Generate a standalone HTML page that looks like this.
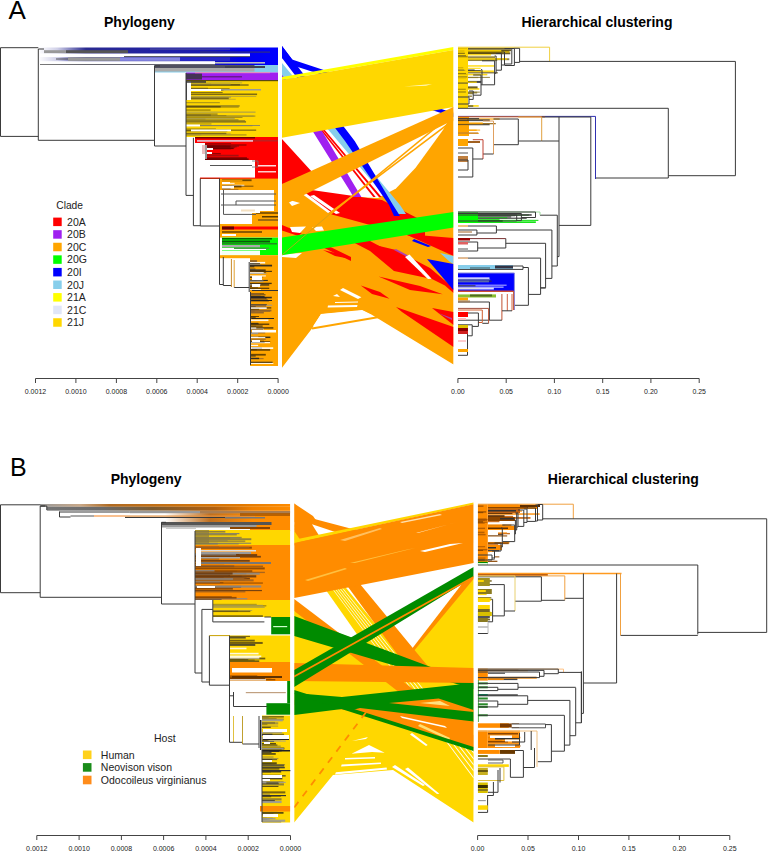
<!DOCTYPE html>
<html><head><meta charset="utf-8">
<style>
html,body{margin:0;padding:0;background:#fff;width:768px;height:851px;overflow:hidden}
svg{display:block}
text{font-family:"Liberation Sans",sans-serif}
</style></head><body>
<svg width="768" height="851" viewBox="0 0 768 851" shape-rendering="auto">
<text x="8.5" y="18.8" font-size="26" text-anchor="start" font-weight="normal" fill="#000">A</text>
<text x="104" y="26.8" font-size="14" text-anchor="start" font-weight="bold" fill="#000">Phylogeny</text>
<text x="521.5" y="27.2" font-size="14" text-anchor="start" font-weight="bold" fill="#000">Hierarchical clustering</text>
<text x="10" y="475.7" font-size="25" text-anchor="start" font-weight="normal" fill="#000">B</text>
<text x="110.7" y="483.8" font-size="14" text-anchor="start" font-weight="bold" fill="#000">Phylogeny</text>
<text x="547.8" y="484.4" font-size="14" text-anchor="start" font-weight="bold" fill="#000">Hierarchical clustering</text>
<line x1="35.5" y1="378.5" x2="278.1" y2="378.5" stroke="#444" stroke-width="1" />
<line x1="35.5" y1="378.5" x2="35.5" y2="383.0" stroke="#444" stroke-width="1" />
<text x="35.5" y="394" font-size="7" text-anchor="middle" font-weight="normal" fill="#222">0.0012</text>
<line x1="75.9" y1="378.5" x2="75.9" y2="383.0" stroke="#444" stroke-width="1" />
<text x="75.9" y="394" font-size="7" text-anchor="middle" font-weight="normal" fill="#222">0.0010</text>
<line x1="116.4" y1="378.5" x2="116.4" y2="383.0" stroke="#444" stroke-width="1" />
<text x="116.4" y="394" font-size="7" text-anchor="middle" font-weight="normal" fill="#222">0.0008</text>
<line x1="156.8" y1="378.5" x2="156.8" y2="383.0" stroke="#444" stroke-width="1" />
<text x="156.8" y="394" font-size="7" text-anchor="middle" font-weight="normal" fill="#222">0.0006</text>
<line x1="197.2" y1="378.5" x2="197.2" y2="383.0" stroke="#444" stroke-width="1" />
<text x="197.2" y="394" font-size="7" text-anchor="middle" font-weight="normal" fill="#222">0.0004</text>
<line x1="237.7" y1="378.5" x2="237.7" y2="383.0" stroke="#444" stroke-width="1" />
<text x="237.7" y="394" font-size="7" text-anchor="middle" font-weight="normal" fill="#222">0.0002</text>
<line x1="278.1" y1="378.5" x2="278.1" y2="383.0" stroke="#444" stroke-width="1" />
<text x="278.1" y="394" font-size="7" text-anchor="middle" font-weight="normal" fill="#222">0.0000</text>
<line x1="457.9" y1="378.5" x2="699.2" y2="378.5" stroke="#444" stroke-width="1" />
<line x1="457.9" y1="378.5" x2="457.9" y2="383.0" stroke="#444" stroke-width="1" />
<text x="457.9" y="394" font-size="7" text-anchor="middle" font-weight="normal" fill="#222">0.00</text>
<line x1="506.2" y1="378.5" x2="506.2" y2="383.0" stroke="#444" stroke-width="1" />
<text x="506.2" y="394" font-size="7" text-anchor="middle" font-weight="normal" fill="#222">0.05</text>
<line x1="554.4" y1="378.5" x2="554.4" y2="383.0" stroke="#444" stroke-width="1" />
<text x="554.4" y="394" font-size="7" text-anchor="middle" font-weight="normal" fill="#222">0.10</text>
<line x1="602.7" y1="378.5" x2="602.7" y2="383.0" stroke="#444" stroke-width="1" />
<text x="602.7" y="394" font-size="7" text-anchor="middle" font-weight="normal" fill="#222">0.15</text>
<line x1="650.9" y1="378.5" x2="650.9" y2="383.0" stroke="#444" stroke-width="1" />
<text x="650.9" y="394" font-size="7" text-anchor="middle" font-weight="normal" fill="#222">0.20</text>
<line x1="699.2" y1="378.5" x2="699.2" y2="383.0" stroke="#444" stroke-width="1" />
<text x="699.2" y="394" font-size="7" text-anchor="middle" font-weight="normal" fill="#222">0.25</text>
<line x1="36.8" y1="835.5" x2="290.5" y2="835.5" stroke="#444" stroke-width="1" />
<line x1="36.8" y1="835.5" x2="36.8" y2="840.0" stroke="#444" stroke-width="1" />
<text x="36.8" y="851" font-size="7" text-anchor="middle" font-weight="normal" fill="#222">0.0012</text>
<line x1="79.1" y1="835.5" x2="79.1" y2="840.0" stroke="#444" stroke-width="1" />
<text x="79.1" y="851" font-size="7" text-anchor="middle" font-weight="normal" fill="#222">0.0010</text>
<line x1="121.4" y1="835.5" x2="121.4" y2="840.0" stroke="#444" stroke-width="1" />
<text x="121.4" y="851" font-size="7" text-anchor="middle" font-weight="normal" fill="#222">0.0008</text>
<line x1="163.6" y1="835.5" x2="163.6" y2="840.0" stroke="#444" stroke-width="1" />
<text x="163.6" y="851" font-size="7" text-anchor="middle" font-weight="normal" fill="#222">0.0006</text>
<line x1="205.9" y1="835.5" x2="205.9" y2="840.0" stroke="#444" stroke-width="1" />
<text x="205.9" y="851" font-size="7" text-anchor="middle" font-weight="normal" fill="#222">0.0004</text>
<line x1="248.2" y1="835.5" x2="248.2" y2="840.0" stroke="#444" stroke-width="1" />
<text x="248.2" y="851" font-size="7" text-anchor="middle" font-weight="normal" fill="#222">0.0002</text>
<line x1="290.5" y1="835.5" x2="290.5" y2="840.0" stroke="#444" stroke-width="1" />
<text x="290.5" y="851" font-size="7" text-anchor="middle" font-weight="normal" fill="#222">0.0000</text>
<line x1="477.6" y1="835.5" x2="729.8" y2="835.5" stroke="#444" stroke-width="1" />
<line x1="477.6" y1="835.5" x2="477.6" y2="840.0" stroke="#444" stroke-width="1" />
<text x="477.6" y="851" font-size="7" text-anchor="middle" font-weight="normal" fill="#222">0.00</text>
<line x1="528.0" y1="835.5" x2="528.0" y2="840.0" stroke="#444" stroke-width="1" />
<text x="528.0" y="851" font-size="7" text-anchor="middle" font-weight="normal" fill="#222">0.05</text>
<line x1="578.5" y1="835.5" x2="578.5" y2="840.0" stroke="#444" stroke-width="1" />
<text x="578.5" y="851" font-size="7" text-anchor="middle" font-weight="normal" fill="#222">0.10</text>
<line x1="628.9" y1="835.5" x2="628.9" y2="840.0" stroke="#444" stroke-width="1" />
<text x="628.9" y="851" font-size="7" text-anchor="middle" font-weight="normal" fill="#222">0.15</text>
<line x1="679.4" y1="835.5" x2="679.4" y2="840.0" stroke="#444" stroke-width="1" />
<text x="679.4" y="851" font-size="7" text-anchor="middle" font-weight="normal" fill="#222">0.20</text>
<line x1="729.8" y1="835.5" x2="729.8" y2="840.0" stroke="#444" stroke-width="1" />
<text x="729.8" y="851" font-size="7" text-anchor="middle" font-weight="normal" fill="#222">0.25</text>
<text x="56.3" y="208.9" font-size="10.2" text-anchor="start" font-weight="normal" fill="#222">Clade</text>
<rect x="53.20" y="217.60" width="8.50" height="8.50" fill="#ff0000" />
<text x="67.1" y="225.60000000000002" font-size="10.5" text-anchor="start" font-weight="normal" fill="#222">20A</text>
<rect x="53.20" y="230.18" width="8.50" height="8.50" fill="#a020f0" />
<text x="67.1" y="238.18000000000004" font-size="10.5" text-anchor="start" font-weight="normal" fill="#222">20B</text>
<rect x="53.20" y="242.76" width="8.50" height="8.50" fill="#ffa500" />
<text x="67.1" y="250.76000000000002" font-size="10.5" text-anchor="start" font-weight="normal" fill="#222">20C</text>
<rect x="53.20" y="255.34" width="8.50" height="8.50" fill="#00ff00" />
<text x="67.1" y="263.34000000000003" font-size="10.5" text-anchor="start" font-weight="normal" fill="#222">20G</text>
<rect x="53.20" y="267.92" width="8.50" height="8.50" fill="#0000ff" />
<text x="67.1" y="275.92" font-size="10.5" text-anchor="start" font-weight="normal" fill="#222">20I</text>
<rect x="53.20" y="280.50" width="8.50" height="8.50" fill="#87ceeb" />
<text x="67.1" y="288.5" font-size="10.5" text-anchor="start" font-weight="normal" fill="#222">20J</text>
<rect x="53.20" y="293.08" width="8.50" height="8.50" fill="#ffff00" />
<text x="67.1" y="301.08000000000004" font-size="10.5" text-anchor="start" font-weight="normal" fill="#222">21A</text>
<rect x="53.20" y="305.66" width="8.50" height="8.50" fill="#e0e6f8" />
<text x="67.1" y="313.66" font-size="10.5" text-anchor="start" font-weight="normal" fill="#222">21C</text>
<rect x="53.20" y="318.24" width="8.50" height="8.50" fill="#ffd700" />
<text x="67.1" y="326.24" font-size="10.5" text-anchor="start" font-weight="normal" fill="#222">21J</text>
<text x="154" y="741.9" font-size="10.5" text-anchor="start" font-weight="normal" fill="#222">Host</text>
<rect x="82.90" y="750.50" width="8.60" height="8.60" fill="#ffd11a" />
<text x="100.8" y="758.5999999999999" font-size="10.5" text-anchor="start" font-weight="normal" fill="#222">Human</text>
<rect x="82.90" y="763.10" width="8.60" height="8.60" fill="#1a8c1a" />
<text x="100.8" y="771.1999999999999" font-size="10.5" text-anchor="start" font-weight="normal" fill="#222">Neovison vison</text>
<rect x="82.90" y="775.70" width="8.60" height="8.60" fill="#ff8c1a" />
<text x="100.8" y="783.8" font-size="10.5" text-anchor="start" font-weight="normal" fill="#222">Odocoileus virginianus</text>
<defs><linearGradient id="gBlue" x1="38" x2="278" y1="0" y2="0" gradientUnits="userSpaceOnUse"><stop offset="0" stop-color="#fff"/><stop offset="0.08" stop-color="#d0d0e8"/><stop offset="0.2" stop-color="#2a2a90"/><stop offset="0.7" stop-color="#1a1ab0"/><stop offset="0.85" stop-color="#0000ee"/><stop offset="1" stop-color="#0000ff"/></linearGradient><linearGradient id="gBlue2" x1="38" x2="278" y1="0" y2="0" gradientUnits="userSpaceOnUse"><stop offset="0" stop-color="#fff"/><stop offset="0.35" stop-color="#fff"/><stop offset="0.5" stop-color="#9090d0"/><stop offset="0.75" stop-color="#1a1ab0"/><stop offset="1" stop-color="#0000ff"/></linearGradient></defs>
<rect x="38.00" y="47.50" width="240.00" height="17.50" fill="url(#gBlue)" />
<rect x="44.00" y="50.20" width="22.00" height="3.00" fill="#999" />
<rect x="66.00" y="50.20" width="62.00" height="3.00" fill="#555" />
<rect x="40.00" y="53.50" width="84.00" height="3.60" fill="#fff" />
<rect x="124.00" y="53.50" width="126.00" height="3.20" fill="#fff" />
<line x1="124.0" y1="56.6" x2="250.0" y2="56.6" stroke="#333" stroke-width="0.8" />
<line x1="56.0" y1="59.0" x2="68.0" y2="59.0" stroke="#333" stroke-width="0.8" />
<rect x="68.00" y="57.30" width="52.00" height="3.60" fill="#9a9a9a" />
<rect x="120.00" y="57.30" width="60.00" height="3.60" fill="#8888e0" />
<rect x="180.00" y="57.30" width="50.00" height="3.60" fill="#2828c8" />
<rect x="40.00" y="61.20" width="175.00" height="3.40" fill="#fff" />
<rect x="215.00" y="62.00" width="50.00" height="1.60" fill="#bbb" />
<line x1="40.0" y1="64.5" x2="215.0" y2="64.5" stroke="#555" stroke-width="0.8" />
<rect x="150.00" y="48.50" width="80.00" height="1.20" fill="#4a4aa0" />
<rect x="200.00" y="51.50" width="70.00" height="1.20" fill="#303080" />
<rect x="154.50" y="65.00" width="123.50" height="7.50" fill="#87ceeb" />
<rect x="154.50" y="65.00" width="100.00" height="3.00" fill="#505060" />
<rect x="154.50" y="68.00" width="100.00" height="3.50" fill="#aaa" />
<rect x="225.00" y="66.00" width="40.00" height="2.00" fill="#404050" />
<rect x="186.00" y="72.50" width="92.00" height="7.50" fill="#a020f0" />
<rect x="186.00" y="73.50" width="16.00" height="6.00" fill="#443355" />
<rect x="195.00" y="72.00" width="75.00" height="1.20" fill="#e090c0" />
<rect x="202.00" y="76.00" width="40.00" height="1.50" fill="#6a1a90" />
<rect x="186.00" y="80.00" width="92.00" height="57.00" fill="#ffd700" />
<rect x="191.00" y="83.97" width="48.96" height="1.63" fill="#5a4a10" opacity="0.85"/>
<rect x="191.00" y="96.18" width="39.89" height="1.99" fill="#b0a040" opacity="0.85"/>
<rect x="191.00" y="84.30" width="57.63" height="1.43" fill="#6b5a10" opacity="0.85"/>
<rect x="191.00" y="87.68" width="16.97" height="1.50" fill="#8a7a30" opacity="0.85"/>
<rect x="191.00" y="97.59" width="37.75" height="1.63" fill="#5a4a10" opacity="0.85"/>
<rect x="191.00" y="92.09" width="31.65" height="0.84" fill="#5a4a10" opacity="0.85"/>
<rect x="191.00" y="93.49" width="66.09" height="1.58" fill="#6b5a10" opacity="0.85"/>
<rect x="191.00" y="83.79" width="20.11" height="1.78" fill="#6b5a10" opacity="0.85"/>
<rect x="191.00" y="89.16" width="32.44" height="1.46" fill="#5a4a10" opacity="0.85"/>
<rect x="191.00" y="83.72" width="39.63" height="1.60" fill="#8a7a30" opacity="0.85"/>
<rect x="191.00" y="82.34" width="51.15" height="1.04" fill="#b0a040" opacity="0.85"/>
<rect x="191.00" y="98.80" width="44.72" height="0.89" fill="#b0a040" opacity="0.85"/>
<rect x="191.00" y="95.89" width="65.26" height="1.04" fill="#b0a040" opacity="0.85"/>
<rect x="191.00" y="88.37" width="38.57" height="1.24" fill="#5a4a10" opacity="0.85"/>
<rect x="186.00" y="134.50" width="15.21" height="0.77" fill="#a59a50" opacity="0.8"/>
<rect x="186.00" y="106.63" width="52.75" height="0.74" fill="#3d3510" opacity="0.8"/>
<rect x="186.00" y="128.53" width="29.90" height="0.70" fill="#6b5a10" opacity="0.8"/>
<rect x="186.00" y="111.50" width="69.54" height="1.32" fill="#a59a50" opacity="0.8"/>
<rect x="186.00" y="125.49" width="66.51" height="0.66" fill="#7a6a20" opacity="0.8"/>
<rect x="186.00" y="109.50" width="24.60" height="1.11" fill="#6b5a10" opacity="0.8"/>
<rect x="186.00" y="120.98" width="60.08" height="1.73" fill="#7a6a20" opacity="0.8"/>
<rect x="186.00" y="102.20" width="33.82" height="0.99" fill="#8a7a20" opacity="0.8"/>
<rect x="186.00" y="134.44" width="60.51" height="0.97" fill="#7a6a20" opacity="0.8"/>
<rect x="186.00" y="105.12" width="53.72" height="1.59" fill="#8a7a20" opacity="0.8"/>
<rect x="186.00" y="115.55" width="67.69" height="1.01" fill="#a59a50" opacity="0.8"/>
<rect x="186.00" y="133.30" width="44.74" height="1.21" fill="#a59a50" opacity="0.8"/>
<rect x="186.00" y="114.30" width="24.85" height="1.71" fill="#7a6a20" opacity="0.8"/>
<rect x="186.00" y="113.46" width="31.58" height="1.30" fill="#7a6a20" opacity="0.8"/>
<rect x="186.00" y="120.21" width="59.10" height="1.23" fill="#7a6a20" opacity="0.8"/>
<rect x="186.00" y="115.38" width="40.34" height="0.71" fill="#6b5a10" opacity="0.8"/>
<rect x="186.00" y="115.54" width="69.38" height="1.08" fill="#8a7a20" opacity="0.8"/>
<rect x="186.00" y="118.43" width="19.57" height="1.08" fill="#8a7a20" opacity="0.8"/>
<rect x="186.00" y="106.17" width="34.68" height="1.26" fill="#3d3510" opacity="0.8"/>
<rect x="186.00" y="132.75" width="40.33" height="1.36" fill="#6b5a10" opacity="0.8"/>
<rect x="186.00" y="119.28" width="52.50" height="1.56" fill="#8a7a20" opacity="0.8"/>
<rect x="186.00" y="123.60" width="25.46" height="0.72" fill="#6b5a10" opacity="0.8"/>
<rect x="186.00" y="129.81" width="41.34" height="1.71" fill="#6b5a10" opacity="0.8"/>
<rect x="186.00" y="117.95" width="48.76" height="1.23" fill="#a59a50" opacity="0.8"/>
<rect x="186.00" y="117.14" width="56.50" height="0.68" fill="#6b5a10" opacity="0.8"/>
<rect x="186.00" y="129.51" width="70.18" height="1.33" fill="#6b5a10" opacity="0.8"/>
<rect x="186.00" y="81.00" width="5.00" height="19.00" fill="#fff" />
<line x1="186.5" y1="81.0" x2="186.5" y2="100.0" stroke="#444" stroke-width="1" />
<rect x="191.00" y="89.00" width="30.00" height="2.00" fill="#fff" />
<rect x="221.00" y="89.00" width="40.00" height="1.50" fill="#999" />
<rect x="186.00" y="124.50" width="14.00" height="2.00" fill="#fff" />
<rect x="191.00" y="129.50" width="40.00" height="1.80" fill="#fff" />
<line x1="200.0" y1="125.5" x2="260.0" y2="125.5" stroke="#777" stroke-width="0.8" />
<rect x="186.00" y="80.00" width="92.00" height="1.20" fill="#5a4a10" />
<rect x="186.00" y="81.20" width="20.00" height="1.50" fill="#333" />
<rect x="195.00" y="137.00" width="83.00" height="6.00" fill="#ff0000" />
<rect x="205.00" y="143.00" width="73.00" height="17.00" fill="#ff0000" />
<rect x="255.00" y="160.00" width="23.00" height="18.00" fill="#ff0000" />
<rect x="205.00" y="143.00" width="73.00" height="17.00" fill="#ff0000" />
<rect x="205.00" y="143.20" width="26.07" height="0.91" fill="#8b0000" opacity="0.9"/>
<rect x="205.00" y="145.22" width="21.37" height="0.91" fill="#a01010" opacity="0.9"/>
<rect x="205.00" y="145.36" width="33.94" height="1.54" fill="#a01010" opacity="0.9"/>
<rect x="205.00" y="146.70" width="29.96" height="1.53" fill="#a01010" opacity="0.9"/>
<rect x="205.00" y="158.94" width="15.19" height="0.89" fill="#b02020" opacity="0.9"/>
<rect x="205.00" y="148.46" width="26.04" height="1.01" fill="#a01010" opacity="0.9"/>
<rect x="205.00" y="146.37" width="31.68" height="1.02" fill="#8b0000" opacity="0.9"/>
<rect x="205.00" y="158.26" width="24.98" height="1.64" fill="#a01010" opacity="0.9"/>
<rect x="205.00" y="145.36" width="25.59" height="1.60" fill="#8b0000" opacity="0.9"/>
<rect x="205.00" y="154.76" width="33.61" height="1.67" fill="#a01010" opacity="0.9"/>
<rect x="205.00" y="146.32" width="25.33" height="1.23" fill="#600" opacity="0.9"/>
<rect x="205.00" y="153.25" width="15.81" height="1.02" fill="#600" opacity="0.9"/>
<rect x="205.00" y="147.69" width="28.67" height="1.37" fill="#600" opacity="0.9"/>
<rect x="205.00" y="158.38" width="43.61" height="1.62" fill="#600" opacity="0.9"/>
<rect x="205.00" y="157.34" width="41.93" height="1.36" fill="#600" opacity="0.9"/>
<rect x="205.00" y="144.50" width="41.49" height="0.99" fill="#600" opacity="0.9"/>
<rect x="195.00" y="137.00" width="60.00" height="1.50" fill="#700" />
<rect x="197.00" y="140.00" width="56.00" height="1.80" fill="#e8b0c0" />
<rect x="253.00" y="140.00" width="25.00" height="1.50" fill="#c02020" />
<rect x="202.00" y="145.00" width="3.00" height="9.00" fill="#e8c0c0" />
<rect x="205.00" y="145.00" width="2.00" height="14.00" fill="#999" />
<rect x="207.00" y="148.00" width="6.00" height="2.00" fill="#fff" />
<rect x="207.00" y="152.00" width="5.00" height="2.00" fill="#fff" />
<rect x="210.00" y="165.00" width="42.00" height="1.00" fill="#555" />
<polyline points="252.0,161.0 258.0,161.0 258.0,167.0 252.0,167.0" fill="none" stroke="#777" stroke-width="0.8"/>
<rect x="258.00" y="165.00" width="18.00" height="1.50" fill="#fdd" />
<rect x="258.00" y="171.00" width="18.00" height="1.50" fill="#fcc" />
<rect x="200.00" y="177.60" width="78.00" height="1.40" fill="#ff0000" />
<rect x="220.00" y="178.60" width="58.00" height="11.40" fill="#ffa500" />
<rect x="274.00" y="190.00" width="4.00" height="34.00" fill="#ffa500" />
<rect x="252.00" y="211.00" width="26.00" height="13.00" fill="#ffa500" />
<rect x="222.00" y="182.81" width="12.58" height="1.08" fill="#fff" opacity="0.85"/>
<rect x="222.00" y="184.78" width="22.34" height="1.63" fill="#fff" opacity="0.85"/>
<rect x="222.00" y="187.52" width="8.64" height="1.72" fill="#5a3a00" opacity="0.85"/>
<rect x="222.00" y="185.62" width="19.47" height="1.81" fill="#5a3a00" opacity="0.85"/>
<rect x="222.00" y="188.87" width="16.44" height="1.13" fill="#b07020" opacity="0.85"/>
<rect x="222.00" y="185.55" width="9.90" height="1.54" fill="#ffa500" opacity="0.85"/>
<rect x="222.00" y="179.33" width="29.59" height="1.84" fill="#5a3a00" opacity="0.85"/>
<rect x="222.00" y="179.73" width="20.37" height="1.23" fill="#ffa500" opacity="0.85"/>
<rect x="222.00" y="185.70" width="31.41" height="0.95" fill="#5a3a00" opacity="0.85"/>
<rect x="222.00" y="186.00" width="12.00" height="2.50" fill="#fff" />
<rect x="222.00" y="182.00" width="8.00" height="2.00" fill="#fff" />
<polyline points="221.0,194.0 276.0,194.0" fill="none" stroke="#555" stroke-width="1"/>
<polyline points="236.0,201.0 276.0,201.0" fill="none" stroke="#555" stroke-width="1"/>
<polyline points="236.0,201.0 236.0,205.0" fill="none" stroke="#555" stroke-width="1"/>
<polyline points="221.0,205.0 276.0,205.0" fill="none" stroke="#555" stroke-width="1"/>
<polyline points="223.5,190.0 223.5,214.4 256.0,214.4" fill="none" stroke="#555" stroke-width="1"/>
<rect x="256.00" y="212.00" width="22.00" height="2.00" fill="#8b5a00" />
<rect x="262.00" y="216.00" width="16.00" height="1.50" fill="#5a3a00" />
<rect x="258.00" y="219.00" width="20.00" height="2.00" fill="#a06a10" />
<rect x="252.00" y="210.00" width="8.00" height="3.00" fill="#fff" />
<rect x="241.00" y="209.50" width="14.00" height="2.00" fill="#f4e0c0" />
<rect x="220.00" y="224.00" width="58.00" height="13.60" fill="#ffa500" />
<rect x="222.00" y="226.50" width="56.00" height="3.00" fill="#ff0000" />
<rect x="222.00" y="226.50" width="12.00" height="3.00" fill="#600" />
<rect x="222.00" y="231.00" width="40.00" height="2.00" fill="#8b5a00" />
<rect x="222.00" y="234.00" width="14.00" height="2.00" fill="#fff" />
<rect x="222.00" y="237.60" width="56.00" height="17.60" fill="#00ff00" />
<rect x="222.00" y="238.00" width="50.00" height="1.50" fill="#006400" />
<rect x="222.00" y="240.50" width="48.00" height="2.00" fill="#0a5a0a" />
<rect x="222.00" y="243.00" width="55.00" height="1.50" fill="#228b22" />
<rect x="222.00" y="245.00" width="38.00" height="2.50" fill="#aaa" />
<rect x="222.00" y="248.00" width="44.00" height="2.00" fill="#fff" />
<rect x="234.00" y="247.50" width="35.00" height="1.50" fill="#40a040" />
<rect x="222.00" y="250.50" width="38.00" height="4.70" fill="#f4fff4" />
<rect x="220.00" y="255.20" width="58.00" height="3.00" fill="#ffa500" />
<rect x="250.00" y="257.00" width="28.00" height="109.00" fill="#ffa500" />
<rect x="250.00" y="310.40" width="20.07" height="1.31" fill="#8b6030" opacity="0.9"/>
<rect x="250.00" y="288.68" width="4.74" height="1.58" fill="#8b6030" opacity="0.9"/>
<rect x="250.00" y="295.81" width="10.66" height="1.15" fill="#222" opacity="0.9"/>
<rect x="250.00" y="293.14" width="14.06" height="0.71" fill="#5a3a00" opacity="0.9"/>
<rect x="250.00" y="325.56" width="12.70" height="1.07" fill="#222" opacity="0.9"/>
<rect x="250.00" y="270.81" width="21.95" height="1.14" fill="#3a2a10" opacity="0.9"/>
<rect x="250.00" y="362.92" width="23.38" height="1.07" fill="#fff" opacity="0.9"/>
<rect x="250.00" y="297.22" width="16.45" height="1.60" fill="#3a2a10" opacity="0.9"/>
<rect x="250.00" y="323.42" width="8.78" height="1.16" fill="#222" opacity="0.9"/>
<rect x="250.00" y="263.31" width="4.48" height="1.10" fill="#999" opacity="0.9"/>
<rect x="250.00" y="266.26" width="4.34" height="1.04" fill="#222" opacity="0.9"/>
<rect x="250.00" y="268.65" width="5.45" height="1.08" fill="#222" opacity="0.9"/>
<rect x="250.00" y="269.41" width="10.63" height="1.09" fill="#999" opacity="0.9"/>
<rect x="250.00" y="285.94" width="8.02" height="1.68" fill="#5a3a00" opacity="0.9"/>
<rect x="250.00" y="299.48" width="17.65" height="0.81" fill="#3a2a10" opacity="0.9"/>
<rect x="250.00" y="309.78" width="4.78" height="1.77" fill="#8b6030" opacity="0.9"/>
<rect x="250.00" y="336.57" width="20.37" height="1.49" fill="#222" opacity="0.9"/>
<rect x="250.00" y="347.25" width="23.21" height="1.76" fill="#fff" opacity="0.9"/>
<rect x="250.00" y="307.29" width="21.28" height="1.20" fill="#3a2a10" opacity="0.9"/>
<rect x="250.00" y="279.63" width="6.62" height="1.68" fill="#5a3a00" opacity="0.9"/>
<rect x="250.00" y="336.73" width="8.26" height="0.96" fill="#fff" opacity="0.9"/>
<rect x="250.00" y="306.04" width="5.72" height="1.05" fill="#222" opacity="0.9"/>
<rect x="250.00" y="276.67" width="13.20" height="0.88" fill="#8b6030" opacity="0.9"/>
<rect x="250.00" y="353.86" width="15.79" height="1.75" fill="#5a3a00" opacity="0.9"/>
<rect x="250.00" y="348.88" width="6.98" height="1.41" fill="#5a3a00" opacity="0.9"/>
<rect x="250.00" y="270.83" width="5.67" height="1.25" fill="#8b6030" opacity="0.9"/>
<rect x="250.00" y="304.01" width="16.81" height="1.18" fill="#3a2a10" opacity="0.9"/>
<rect x="250.00" y="319.50" width="18.42" height="1.56" fill="#fff" opacity="0.9"/>
<rect x="250.00" y="341.74" width="20.00" height="1.53" fill="#fff" opacity="0.9"/>
<rect x="250.00" y="328.15" width="13.75" height="1.54" fill="#fff" opacity="0.9"/>
<rect x="250.00" y="271.21" width="16.09" height="1.41" fill="#5a3a00" opacity="0.9"/>
<rect x="250.00" y="309.68" width="21.41" height="1.75" fill="#8b6030" opacity="0.9"/>
<rect x="250.00" y="341.14" width="14.70" height="1.66" fill="#999" opacity="0.9"/>
<rect x="250.00" y="331.68" width="15.22" height="1.73" fill="#8b6030" opacity="0.9"/>
<rect x="250.00" y="327.23" width="23.37" height="1.38" fill="#3a2a10" opacity="0.9"/>
<rect x="250.00" y="294.39" width="15.51" height="0.90" fill="#222" opacity="0.9"/>
<rect x="250.00" y="284.26" width="19.22" height="1.34" fill="#222" opacity="0.9"/>
<rect x="250.00" y="311.88" width="13.83" height="1.56" fill="#8b6030" opacity="0.9"/>
<rect x="250.00" y="336.97" width="15.30" height="1.19" fill="#fff" opacity="0.9"/>
<rect x="250.00" y="296.07" width="14.13" height="1.37" fill="#8b6030" opacity="0.9"/>
<rect x="250.00" y="279.90" width="17.82" height="1.11" fill="#222" opacity="0.9"/>
<rect x="250.00" y="287.65" width="19.25" height="1.35" fill="#5a3a00" opacity="0.9"/>
<rect x="250.00" y="307.28" width="16.70" height="1.72" fill="#fff" opacity="0.9"/>
<rect x="250.00" y="261.90" width="15.17" height="1.62" fill="#fff" opacity="0.9"/>
<rect x="250.00" y="260.17" width="7.07" height="1.74" fill="#8b6030" opacity="0.9"/>
<rect x="250.00" y="275.38" width="15.88" height="1.09" fill="#fff" opacity="0.9"/>
<rect x="250.00" y="358.22" width="13.60" height="0.94" fill="#8b6030" opacity="0.9"/>
<rect x="250.00" y="340.77" width="14.01" height="0.70" fill="#222" opacity="0.9"/>
<rect x="250.00" y="289.06" width="10.77" height="1.00" fill="#fff" opacity="0.9"/>
<rect x="250.00" y="322.85" width="8.27" height="1.26" fill="#222" opacity="0.9"/>
<rect x="250.00" y="263.09" width="9.96" height="0.74" fill="#222" opacity="0.9"/>
<rect x="250.00" y="269.41" width="15.67" height="1.74" fill="#3a2a10" opacity="0.9"/>
<rect x="250.00" y="361.73" width="22.62" height="1.06" fill="#222" opacity="0.9"/>
<rect x="250.00" y="316.21" width="5.69" height="1.59" fill="#5a3a00" opacity="0.9"/>
<rect x="250.00" y="304.70" width="22.26" height="1.07" fill="#999" opacity="0.9"/>
<rect x="250.00" y="355.47" width="5.69" height="1.02" fill="#222" opacity="0.9"/>
<rect x="250.00" y="276.47" width="5.90" height="1.40" fill="#3a2a10" opacity="0.9"/>
<rect x="250.00" y="296.76" width="21.80" height="1.58" fill="#222" opacity="0.9"/>
<rect x="250.00" y="327.46" width="6.25" height="1.20" fill="#fff" opacity="0.9"/>
<rect x="250.00" y="341.03" width="20.21" height="0.86" fill="#5a3a00" opacity="0.9"/>
<rect x="250.00" y="317.94" width="6.68" height="0.95" fill="#3a2a10" opacity="0.9"/>
<rect x="250.00" y="272.13" width="13.74" height="1.77" fill="#fff" opacity="0.9"/>
<rect x="250.00" y="260.82" width="6.21" height="0.71" fill="#8b6030" opacity="0.9"/>
<rect x="250.00" y="323.51" width="19.28" height="1.51" fill="#5a3a00" opacity="0.9"/>
<rect x="250.00" y="344.79" width="8.12" height="1.28" fill="#fff" opacity="0.9"/>
<rect x="250.00" y="325.84" width="6.08" height="0.71" fill="#5a3a00" opacity="0.9"/>
<rect x="250.00" y="282.76" width="21.72" height="1.33" fill="#3a2a10" opacity="0.9"/>
<rect x="250.00" y="329.24" width="13.27" height="1.06" fill="#8b6030" opacity="0.9"/>
<rect x="250.00" y="357.74" width="9.10" height="1.40" fill="#222" opacity="0.9"/>
<rect x="250.00" y="332.50" width="8.14" height="1.68" fill="#999" opacity="0.9"/>
<rect x="250.00" y="308.85" width="9.18" height="0.94" fill="#5a3a00" opacity="0.9"/>
<rect x="250.00" y="273.08" width="16.40" height="0.81" fill="#999" opacity="0.9"/>
<rect x="250.00" y="284.23" width="11.11" height="0.98" fill="#999" opacity="0.9"/>
<rect x="250.00" y="264.16" width="10.62" height="1.13" fill="#999" opacity="0.9"/>
<rect x="250.00" y="285.13" width="7.81" height="1.09" fill="#8b6030" opacity="0.9"/>
<rect x="250.00" y="349.09" width="20.14" height="1.67" fill="#5a3a00" opacity="0.9"/>
<rect x="250.00" y="293.45" width="9.79" height="1.47" fill="#8b6030" opacity="0.9"/>
<rect x="250.00" y="296.16" width="14.62" height="1.28" fill="#222" opacity="0.9"/>
<rect x="250.00" y="280.54" width="13.46" height="1.33" fill="#999" opacity="0.9"/>
<rect x="250.00" y="316.01" width="9.02" height="1.00" fill="#5a3a00" opacity="0.9"/>
<rect x="250.00" y="298.46" width="15.66" height="0.79" fill="#8b6030" opacity="0.9"/>
<rect x="250.00" y="338.68" width="15.67" height="1.08" fill="#8b6030" opacity="0.9"/>
<rect x="250.00" y="304.95" width="16.24" height="1.76" fill="#8b6030" opacity="0.9"/>
<rect x="250.00" y="299.98" width="18.87" height="1.37" fill="#222" opacity="0.9"/>
<rect x="250.00" y="264.72" width="22.06" height="1.75" fill="#222" opacity="0.9"/>
<rect x="252.00" y="290.00" width="26.00" height="1.00" fill="#333" />
<rect x="252.00" y="300.00" width="20.00" height="1.00" fill="#222" />
<rect x="252.00" y="318.00" width="22.00" height="1.00" fill="#222" />
<rect x="252.00" y="276.00" width="10.00" height="4.00" fill="#fff" />
<rect x="252.00" y="284.00" width="8.00" height="3.00" fill="#fff" />
<rect x="252.00" y="330.00" width="24.00" height="2.50" fill="#fff" />
<rect x="252.00" y="340.00" width="8.00" height="2.00" fill="#fff" />
<rect x="252.00" y="347.00" width="10.00" height="2.00" fill="#ccc" />
<polyline points="38.3,47.7 0.5,47.7 0.5,136.4 38.3,136.4" fill="none" stroke="#3a3a3a" stroke-width="1"/>
<polyline points="44.0,49.0 38.3,49.0 38.3,140.3 154.5,140.3" fill="none" stroke="#3a3a3a" stroke-width="1"/>
<polyline points="160.0,65.9 154.5,65.9 154.5,146.0 186.0,146.0" fill="none" stroke="#3a3a3a" stroke-width="1"/>
<line x1="186.0" y1="73.0" x2="186.0" y2="195.4" stroke="#3a3a3a" stroke-width="1" />
<line x1="186.0" y1="195.4" x2="193.4" y2="195.4" stroke="#3a3a3a" stroke-width="1" />
<line x1="193.4" y1="137.8" x2="193.4" y2="225.7" stroke="#3a3a3a" stroke-width="1" />
<line x1="193.4" y1="225.7" x2="200.3" y2="225.7" stroke="#3a3a3a" stroke-width="1" />
<line x1="200.3" y1="178.4" x2="200.3" y2="226.0" stroke="#3a3a3a" stroke-width="1" />
<line x1="200.3" y1="178.4" x2="220.0" y2="178.4" stroke="#b03010" stroke-width="1" />
<line x1="200.3" y1="226.0" x2="219.5" y2="226.0" stroke="#3a3a3a" stroke-width="1" />
<line x1="219.5" y1="178.4" x2="219.5" y2="284.5" stroke="#3a3a3a" stroke-width="1" />
<line x1="219.5" y1="284.5" x2="223.3" y2="284.5" stroke="#3a3a3a" stroke-width="1" />
<line x1="223.3" y1="257.0" x2="223.3" y2="285.5" stroke="#3a3a3a" stroke-width="1" />
<line x1="223.3" y1="285.5" x2="231.4" y2="285.5" stroke="#3a3a3a" stroke-width="1" />
<line x1="231.4" y1="259.0" x2="231.4" y2="287.0" stroke="#c98a2a" stroke-width="1" />
<line x1="234.2" y1="260.0" x2="234.2" y2="287.5" stroke="#e0a030" stroke-width="1" />
<line x1="234.2" y1="287.5" x2="249.2" y2="287.5" stroke="#3a3a3a" stroke-width="1" />
<line x1="249.2" y1="262.0" x2="249.2" y2="292.0" stroke="#3a3a3a" stroke-width="1" />
<line x1="250.5" y1="292.0" x2="250.5" y2="365.0" stroke="#3a3a3a" stroke-width="1" />
<defs><clipPath id="cAbove"><polygon points="282,0 454,0 454,212 282,237.6"/></clipPath><clipPath id="cTop200"><rect x="282" y="0" width="172" height="197"/></clipPath></defs>
<polygon points="282.0,178.0 453.5,107.0 453.5,364.5 373.0,315.6 362.0,310.0 321.0,314.0 312.0,328.6 282.0,367.7" fill="#ffa500" />
<polygon points="282.0,138.0 453.5,107.5 453.5,111.0 443.0,130.0 415.6,167.8 396.0,188.6 378.0,198.0 330.0,196.0 282.0,186.0" fill="#fff" />
<polygon points="286.0,199.0 300.0,203.0 292.0,206.0" fill="#fff" />
<polygon points="343.0,288.0 361.4,297.3 358.0,299.0 340.0,290.0" fill="#fff" />
<polygon points="333.0,296.0 337.0,294.0 340.0,297.0" fill="#fff" />
<polygon points="328.0,305.5 357.5,305.0 357.0,307.0 327.6,307.5" fill="#fff" />
<polygon points="335.0,302.0 358.0,301.5 358.0,302.5 335.0,303.0" fill="#fff" />
<polygon points="313.2,326.0 321.0,314.3 362.7,310.4 373.0,315.6" fill="#fff" />
<line x1="312" y1="328.6" x2="382" y2="316.5" stroke="#ffa500" stroke-width="2"/>
<polygon points="282.0,139.0 313.0,173.0 326.0,180.0 282.0,184.0" fill="#ff0000" />
<polygon points="299.0,191.0 308.0,189.5 382.0,200.0 425.0,222.0 425.0,240.0 331.0,214.3" fill="#ff0000" />
<polygon points="301.5,193.4 305.0,192.5 331.0,212.0 328.0,213.0" fill="#fff" />
<polygon points="310.0,196.0 314.0,195.0 340.0,213.0 336.0,214.0" fill="#fff" />
<g clip-path="url(#cTop200)">
<polygon points="282.0,79.0 453.5,295.0 453.5,299.0 282.0,81.0" fill="#ff0000" />
<polygon points="282.0,79.5 453.5,282.0 453.5,286.0 282.0,81.5" fill="#ff0000" />
<polygon points="282.0,64.0 357.8,191.0 362.0,198.0 354.0,198.0 350.0,191.0 282.0,82.0" fill="#a020f0" />
</g>
<g clip-path="url(#cAbove)">
<polygon points="282.0,63.0 400.0,205.0 406.0,214.0 397.0,214.0 392.0,205.0 282.0,75.0" fill="#87ceeb" />
<polygon points="282.0,46.0 354.7,141.0 393.0,205.0 400.0,216.0 394.0,216.0 389.0,205.0 345.0,141.0 282.0,58.0" fill="#0000ff" />
</g>
<polygon points="405.0,234.0 453.5,238.0 453.5,256.0" fill="#ff0000" />
<polygon points="414.0,239.0 431.0,246.0 428.0,247.0 412.0,241.0" fill="#0000ff" />
<polygon points="345.0,238.0 370.0,241.0 400.0,257.0 427.0,278.0 394.0,271.0 370.0,251.0" fill="#ff0000" />
<polygon points="375.0,245.0 396.0,250.0 430.0,268.0 453.5,288.0 453.5,293.0 444.9,285.4 410.0,268.0 380.0,252.0" fill="#ff0000" />
<polygon points="396.0,249.0 411.0,257.0 409.0,258.0 394.0,250.0" fill="#b040b0" />
<polygon points="409.5,254.4 431.6,278.8 428.0,279.0 405.0,257.0" fill="#fff" />
<polygon points="378.5,276.5 420.0,286.0 442.7,294.2 410.0,290.0" fill="#ff0000" />
<polygon points="360.8,285.4 380.0,292.0 389.6,298.7 372.0,294.0" fill="#ff0000" />
<polygon points="323.0,250.0 340.0,254.0 349.7,258.8 335.0,256.0" fill="#ff0000" />
<polygon points="396.0,307.0 453.5,327.0 453.5,347.0 402.0,312.0" fill="#ff0000" />
<polygon points="432.0,308.0 453.5,312.0 453.5,325.0" fill="#ff0000" />
<polygon points="438.0,313.0 452.0,318.0 452.0,320.0" fill="#b040a0" />
<polygon points="282.0,225.0 302.7,233.6 351.0,257.0 351.0,261.0 302.7,237.6 282.0,230.5" fill="#ff0000" />
<polygon points="427.0,259.0 453.5,264.0 453.5,290.3" fill="#0000ff" />
<polygon points="440.0,253.0 453.5,256.0 453.5,264.0 450.0,262.0" fill="#87ceeb" />
<polygon points="290.0,227.0 306.0,226.5 300.0,233.0 292.0,232.0" fill="#fff" />
<polygon points="312.0,227.0 322.0,226.5 324.0,230.5 316.0,231.0" fill="#fff" />
<polygon points="282.0,254.0 302.0,253.0 296.0,258.0 282.0,257.0" fill="#fff" />
<polygon points="282.0,46.0 292.0,59.5 453.5,113.0 453.5,117.0 297.0,66.7 282.0,58.0" fill="#0000ff" />
<polygon points="282.0,77.0 453.5,47.0 453.5,50.0 282.0,80.0" fill="#ffff00" />
<polygon points="282.0,80.0 453.5,50.0 453.5,107.0 282.0,137.7" fill="#ffd700" />
<polygon points="404.0,86.5 432.0,84.0 426.0,85.8" fill="#fff8c0" />
<polygon points="282.0,184.0 453.5,107.0 453.5,120.0 282.0,206.0" fill="#ffa500" />
<polygon points="282.0,248.0 453.5,119.0 453.5,121.0 282.0,250.0" fill="#ffa500" />
<polygon points="282.0,253.0 453.5,112.0 453.5,114.0 282.0,255.0" fill="#ffa500" />
<polygon points="282.0,237.6 453.5,212.0 453.5,227.5 282.0,255.2" fill="#00ff00" />
<line x1="282" y1="255" x2="330" y2="214" stroke="#d0a020" stroke-width="1" opacity="0.8"/>
<rect x="458.00" y="47.20" width="10.00" height="61.00" fill="#ffd700" />
<rect x="468.00" y="59.75" width="29.22" height="1.29" fill="#8a7a30" opacity="0.9"/>
<rect x="468.00" y="51.65" width="41.07" height="1.11" fill="#ffd700" opacity="0.9"/>
<rect x="468.00" y="50.19" width="40.61" height="1.67" fill="#8a7a30" opacity="0.9"/>
<rect x="468.00" y="52.72" width="24.62" height="1.07" fill="#ffd700" opacity="0.9"/>
<rect x="468.00" y="52.39" width="42.29" height="1.89" fill="#5a4a10" opacity="0.9"/>
<rect x="468.00" y="47.64" width="46.50" height="1.35" fill="#5a4a10" opacity="0.9"/>
<rect x="468.00" y="50.86" width="41.55" height="1.75" fill="#d4b000" opacity="0.9"/>
<rect x="468.00" y="58.29" width="41.29" height="1.88" fill="#8a7a30" opacity="0.9"/>
<rect x="468.00" y="52.15" width="33.83" height="1.54" fill="#5a4a10" opacity="0.9"/>
<rect x="468.00" y="58.20" width="38.84" height="1.52" fill="#ffd700" opacity="0.9"/>
<rect x="468.00" y="49.24" width="43.15" height="1.95" fill="#5a4a10" opacity="0.9"/>
<rect x="468.00" y="49.91" width="33.27" height="1.15" fill="#ffd700" opacity="0.9"/>
<rect x="468.00" y="56.29" width="27.07" height="1.73" fill="#8a7a30" opacity="0.9"/>
<rect x="468.00" y="54.09" width="23.07" height="1.43" fill="#ffd700" opacity="0.9"/>
<rect x="468.00" y="69.45" width="6.62" height="1.62" fill="#333" opacity="0.9"/>
<rect x="468.00" y="80.91" width="13.14" height="2.00" fill="#333" opacity="0.9"/>
<rect x="468.00" y="73.78" width="19.32" height="1.59" fill="#ffd700" opacity="0.9"/>
<rect x="468.00" y="70.41" width="25.87" height="1.82" fill="#ffd700" opacity="0.9"/>
<rect x="468.00" y="76.87" width="21.93" height="1.04" fill="#8a7a30" opacity="0.9"/>
<rect x="468.00" y="76.91" width="10.21" height="1.19" fill="#8a7a30" opacity="0.9"/>
<rect x="468.00" y="72.26" width="29.84" height="1.10" fill="#5a4a10" opacity="0.9"/>
<rect x="468.00" y="67.74" width="12.71" height="1.15" fill="#ffd700" opacity="0.9"/>
<rect x="468.00" y="70.16" width="12.83" height="1.58" fill="#333" opacity="0.9"/>
<rect x="468.00" y="71.03" width="12.79" height="1.07" fill="#ffd700" opacity="0.9"/>
<rect x="468.00" y="65.20" width="26.14" height="1.48" fill="#ffd700" opacity="0.9"/>
<rect x="468.00" y="81.54" width="8.83" height="1.29" fill="#ffd700" opacity="0.9"/>
<rect x="468.00" y="95.47" width="3.95" height="1.44" fill="#8a7a30" opacity="0.9"/>
<rect x="468.00" y="105.10" width="10.72" height="1.68" fill="#ffd700" opacity="0.9"/>
<rect x="468.00" y="88.10" width="11.39" height="1.69" fill="#ffd700" opacity="0.9"/>
<rect x="468.00" y="91.77" width="9.18" height="1.72" fill="#8a7a30" opacity="0.9"/>
<rect x="468.00" y="91.63" width="11.80" height="1.03" fill="#8a7a30" opacity="0.9"/>
<rect x="468.00" y="105.44" width="5.25" height="1.20" fill="#333" opacity="0.9"/>
<rect x="468.00" y="92.34" width="5.02" height="1.96" fill="#8a7a30" opacity="0.9"/>
<rect x="468.00" y="86.38" width="9.59" height="1.99" fill="#5a4a10" opacity="0.9"/>
<rect x="458.00" y="69.36" width="6.00" height="1.47" fill="#8a7a30" opacity="0.7"/>
<rect x="458.00" y="50.36" width="6.41" height="1.39" fill="#d4b000" opacity="0.7"/>
<rect x="458.00" y="76.49" width="9.24" height="0.86" fill="#333" opacity="0.7"/>
<rect x="458.00" y="67.10" width="5.04" height="1.17" fill="#d4b000" opacity="0.7"/>
<rect x="458.00" y="82.49" width="9.91" height="1.22" fill="#333" opacity="0.7"/>
<rect x="458.00" y="67.05" width="5.32" height="1.12" fill="#d4b000" opacity="0.7"/>
<rect x="458.00" y="56.29" width="9.67" height="0.97" fill="#5a4a10" opacity="0.7"/>
<rect x="458.00" y="91.49" width="7.89" height="1.01" fill="#5a4a10" opacity="0.7"/>
<rect x="458.00" y="48.05" width="9.14" height="0.95" fill="#d4b000" opacity="0.7"/>
<rect x="458.00" y="77.07" width="8.00" height="1.48" fill="#d4b000" opacity="0.7"/>
<rect x="458.00" y="73.82" width="9.64" height="1.11" fill="#d4b000" opacity="0.7"/>
<rect x="458.00" y="69.85" width="7.28" height="0.94" fill="#8a7a30" opacity="0.7"/>
<rect x="458.00" y="72.96" width="8.02" height="0.91" fill="#5a4a10" opacity="0.7"/>
<rect x="458.00" y="55.28" width="8.05" height="0.89" fill="#333" opacity="0.7"/>
<rect x="458.00" y="52.74" width="6.88" height="1.16" fill="#5a4a10" opacity="0.7"/>
<rect x="458.00" y="88.79" width="7.79" height="0.83" fill="#5a4a10" opacity="0.7"/>
<polyline points="458.0,47.2 549.6,47.2 549.6,61.4" fill="none" stroke="#f0d040" stroke-width="1"/>
<line x1="519.6" y1="61.4" x2="735.4" y2="61.4" stroke="#3a3a3a" stroke-width="1" />
<line x1="514.4" y1="48.3" x2="519.6" y2="48.3" stroke="#3a3a3a" stroke-width="1" />
<line x1="519.6" y1="48.3" x2="519.6" y2="62.4" stroke="#3a3a3a" stroke-width="1" />
<line x1="514.4" y1="62.4" x2="519.6" y2="62.4" stroke="#3a3a3a" stroke-width="1" />
<line x1="511.8" y1="48.5" x2="514.4" y2="48.5" stroke="#3a3a3a" stroke-width="1" />
<line x1="514.4" y1="48.5" x2="514.4" y2="65.5" stroke="#3a3a3a" stroke-width="1" />
<line x1="504.5" y1="65.5" x2="514.4" y2="65.5" stroke="#3a3a3a" stroke-width="1" />
<line x1="504.5" y1="48.5" x2="511.8" y2="48.5" stroke="#3a3a3a" stroke-width="1" />
<line x1="511.8" y1="48.5" x2="511.8" y2="64.0" stroke="#3a3a3a" stroke-width="1" />
<line x1="504.5" y1="64.0" x2="511.8" y2="64.0" stroke="#3a3a3a" stroke-width="1" />
<line x1="501.4" y1="52.0" x2="504.5" y2="52.0" stroke="#3a3a3a" stroke-width="1" />
<line x1="504.5" y1="52.0" x2="504.5" y2="65.0" stroke="#3a3a3a" stroke-width="1" />
<line x1="501.4" y1="65.0" x2="504.5" y2="65.0" stroke="#3a3a3a" stroke-width="1" />
<line x1="496.1" y1="53.5" x2="501.4" y2="53.5" stroke="#3a3a3a" stroke-width="1" />
<line x1="501.4" y1="53.5" x2="501.4" y2="70.2" stroke="#3a3a3a" stroke-width="1" />
<line x1="496.1" y1="70.2" x2="501.4" y2="70.2" stroke="#3a3a3a" stroke-width="1" />
<line x1="494.6" y1="56.0" x2="496.1" y2="56.0" stroke="#3a3a3a" stroke-width="1" />
<line x1="496.1" y1="56.0" x2="496.1" y2="73.3" stroke="#3a3a3a" stroke-width="1" />
<line x1="494.6" y1="73.3" x2="496.1" y2="73.3" stroke="#3a3a3a" stroke-width="1" />
<line x1="482.0" y1="60.8" x2="494.6" y2="60.8" stroke="#3a3a3a" stroke-width="1" />
<line x1="494.6" y1="60.8" x2="494.6" y2="84.8" stroke="#3a3a3a" stroke-width="1" />
<line x1="482.0" y1="84.8" x2="494.6" y2="84.8" stroke="#3a3a3a" stroke-width="1" />
<line x1="481.0" y1="69.7" x2="482.0" y2="69.7" stroke="#3a3a3a" stroke-width="1" />
<line x1="482.0" y1="69.7" x2="482.0" y2="84.8" stroke="#3a3a3a" stroke-width="1" />
<line x1="481.0" y1="84.8" x2="482.0" y2="84.8" stroke="#3a3a3a" stroke-width="1" />
<line x1="473.2" y1="75.0" x2="481.0" y2="75.0" stroke="#3a3a3a" stroke-width="1" />
<line x1="481.0" y1="75.0" x2="481.0" y2="95.2" stroke="#3a3a3a" stroke-width="1" />
<line x1="473.2" y1="95.2" x2="481.0" y2="95.2" stroke="#3a3a3a" stroke-width="1" />
<line x1="469.0" y1="91.0" x2="473.2" y2="91.0" stroke="#3a3a3a" stroke-width="1" />
<line x1="473.2" y1="91.0" x2="473.2" y2="99.4" stroke="#3a3a3a" stroke-width="1" />
<line x1="469.0" y1="99.4" x2="473.2" y2="99.4" stroke="#3a3a3a" stroke-width="1" />
<line x1="458.0" y1="97.0" x2="469.0" y2="97.0" stroke="#3a3a3a" stroke-width="1" />
<line x1="469.0" y1="97.0" x2="469.0" y2="104.0" stroke="#3a3a3a" stroke-width="1" />
<line x1="458.0" y1="104.0" x2="469.0" y2="104.0" stroke="#3a3a3a" stroke-width="1" />
<line x1="735.4" y1="61.4" x2="735.4" y2="175.7" stroke="#3a3a3a" stroke-width="1" />
<line x1="735.4" y1="175.7" x2="668.3" y2="175.7" stroke="#3a3a3a" stroke-width="1" />
<line x1="668.3" y1="108.3" x2="668.3" y2="178.0" stroke="#3a3a3a" stroke-width="1" />
<line x1="458.0" y1="108.3" x2="668.3" y2="108.3" stroke="#3a3a3a" stroke-width="1" />
<line x1="668.3" y1="178.0" x2="595.5" y2="178.0" stroke="#3a3a3a" stroke-width="1" />
<rect x="458.00" y="117.00" width="11.00" height="19.00" fill="#ffa500" />
<rect x="458.00" y="118.32" width="41.65" height="1.39" fill="#ffa500" opacity="0.85"/>
<rect x="458.00" y="129.58" width="18.71" height="1.42" fill="#ffa500" opacity="0.85"/>
<rect x="458.00" y="119.32" width="31.76" height="1.79" fill="#333" opacity="0.85"/>
<rect x="458.00" y="123.84" width="31.65" height="1.43" fill="#333" opacity="0.85"/>
<rect x="458.00" y="125.19" width="10.72" height="0.81" fill="#ffa500" opacity="0.85"/>
<rect x="458.00" y="118.64" width="9.00" height="1.12" fill="#c08030" opacity="0.85"/>
<rect x="458.00" y="132.89" width="20.84" height="1.07" fill="#ffa500" opacity="0.85"/>
<rect x="458.00" y="132.33" width="20.15" height="1.44" fill="#c08030" opacity="0.85"/>
<rect x="458.00" y="129.55" width="22.11" height="1.10" fill="#ffa500" opacity="0.85"/>
<rect x="458.00" y="123.04" width="37.79" height="1.25" fill="#8b5a00" opacity="0.85"/>
<rect x="458.00" y="117.99" width="21.08" height="1.22" fill="#333" opacity="0.85"/>
<rect x="458.00" y="122.37" width="24.83" height="1.77" fill="#ffa500" opacity="0.85"/>
<rect x="458.00" y="139.00" width="10.00" height="7.00" fill="#ffa500" />
<rect x="468.00" y="141.00" width="12.00" height="2.00" fill="#a06020" />
<rect x="458.00" y="148.00" width="12.00" height="7.00" fill="#fff" />
<rect x="458.00" y="152.00" width="10.00" height="2.00" fill="#aaa" />
<rect x="458.00" y="156.00" width="10.00" height="6.00" fill="#c08040" />
<rect x="458.00" y="164.00" width="8.00" height="3.00" fill="#fff" />
<rect x="458.00" y="170.00" width="10.00" height="4.00" fill="#fff" />
<polyline points="458.0,116.4 595.5,116.4 595.5,179.0" fill="none" stroke="#3030b0" stroke-width="1"/>
<line x1="458.0" y1="116.8" x2="545.0" y2="116.8" stroke="#d06020" stroke-width="1" />
<line x1="559.0" y1="117.0" x2="590.8" y2="117.0" stroke="#3a3a3a" stroke-width="1" />
<line x1="590.8" y1="117.0" x2="590.8" y2="225.4" stroke="#3a3a3a" stroke-width="1" />
<line x1="559.0" y1="225.4" x2="590.8" y2="225.4" stroke="#3a3a3a" stroke-width="1" />
<line x1="541.7" y1="117.0" x2="559.0" y2="117.0" stroke="#3a3a3a" stroke-width="1" />
<line x1="559.0" y1="117.0" x2="559.0" y2="256.6" stroke="#3a3a3a" stroke-width="1" />
<line x1="557.3" y1="256.6" x2="559.0" y2="256.6" stroke="#3a3a3a" stroke-width="1" />
<line x1="518.3" y1="117.0" x2="541.7" y2="117.0" stroke="#e0a040" stroke-width="1" />
<line x1="541.7" y1="117.0" x2="541.7" y2="141.0" stroke="#e0a040" stroke-width="1" />
<line x1="518.3" y1="141.0" x2="541.7" y2="141.0" stroke="#3a3a3a" stroke-width="1" />
<line x1="541.7" y1="141.0" x2="559.0" y2="141.0" stroke="#3a3a3a" stroke-width="1" />
<line x1="493.5" y1="119.0" x2="518.3" y2="119.0" stroke="#3a3a3a" stroke-width="1" />
<line x1="518.3" y1="119.0" x2="518.3" y2="144.7" stroke="#3a3a3a" stroke-width="1" />
<line x1="493.5" y1="144.7" x2="518.3" y2="144.7" stroke="#3a3a3a" stroke-width="1" />
<line x1="483.0" y1="121.0" x2="493.5" y2="121.0" stroke="#e0a060" stroke-width="1" />
<line x1="493.5" y1="121.0" x2="493.5" y2="154.0" stroke="#e0a060" stroke-width="1" />
<line x1="483.0" y1="154.0" x2="493.5" y2="154.0" stroke="#3a3a3a" stroke-width="1" />
<line x1="472.8" y1="139.7" x2="483.0" y2="139.7" stroke="#c04030" stroke-width="1" />
<line x1="483.0" y1="139.7" x2="483.0" y2="159.0" stroke="#c04030" stroke-width="1" />
<line x1="472.8" y1="159.0" x2="483.0" y2="159.0" stroke="#3a3a3a" stroke-width="1" />
<line x1="458.0" y1="148.0" x2="472.8" y2="148.0" stroke="#3a3a3a" stroke-width="1" />
<line x1="472.8" y1="148.0" x2="472.8" y2="177.0" stroke="#3a3a3a" stroke-width="1" />
<line x1="458.0" y1="177.0" x2="472.8" y2="177.0" stroke="#3a3a3a" stroke-width="1" />
<line x1="458.0" y1="160.0" x2="468.0" y2="160.0" stroke="#3a3a3a" stroke-width="1" />
<line x1="468.0" y1="160.0" x2="468.0" y2="170.0" stroke="#3a3a3a" stroke-width="1" />
<line x1="458.0" y1="170.0" x2="468.0" y2="170.0" stroke="#3a3a3a" stroke-width="1" />
<line x1="540.0" y1="215.2" x2="557.3" y2="215.2" stroke="#3a3a3a" stroke-width="1" />
<line x1="557.3" y1="215.2" x2="557.3" y2="266.0" stroke="#3a3a3a" stroke-width="1" />
<line x1="551.9" y1="266.0" x2="557.3" y2="266.0" stroke="#3a3a3a" stroke-width="1" />
<rect x="458.00" y="214.80" width="56.98" height="1.50" fill="#555" opacity="0.9"/>
<rect x="458.00" y="214.98" width="47.80" height="1.07" fill="#00ff00" opacity="0.9"/>
<rect x="458.00" y="214.02" width="39.24" height="1.11" fill="#00ff00" opacity="0.9"/>
<rect x="458.00" y="216.16" width="53.20" height="1.56" fill="#555" opacity="0.9"/>
<rect x="458.00" y="213.80" width="39.82" height="1.06" fill="#00ff00" opacity="0.9"/>
<rect x="458.00" y="214.02" width="73.71" height="1.88" fill="#555" opacity="0.9"/>
<rect x="458.00" y="219.17" width="41.58" height="1.35" fill="#00e000" opacity="0.9"/>
<rect x="458.00" y="214.29" width="70.68" height="1.22" fill="#006400" opacity="0.9"/>
<rect x="458.00" y="221.30" width="77.86" height="1.70" fill="#00e000" opacity="0.9"/>
<rect x="458.00" y="217.05" width="49.27" height="1.91" fill="#00ff00" opacity="0.9"/>
<rect x="458.00" y="219.84" width="80.39" height="1.08" fill="#00e000" opacity="0.9"/>
<rect x="458.00" y="217.56" width="68.70" height="1.44" fill="#555" opacity="0.9"/>
<rect x="458.00" y="220.15" width="44.67" height="1.56" fill="#006400" opacity="0.9"/>
<rect x="458.00" y="214.03" width="70.70" height="1.41" fill="#555" opacity="0.9"/>
<rect x="458.00" y="212.00" width="20.00" height="11.00" fill="#00ff00" />
<polyline points="458.0,212.0 540.0,212.0 540.0,215.2" fill="none" stroke="#a0e0a0" stroke-width="1"/>
<line x1="458.0" y1="212.0" x2="535.5" y2="212.0" stroke="#3a3a3a" stroke-width="1" />
<line x1="535.5" y1="212.0" x2="535.5" y2="217.5" stroke="#3a3a3a" stroke-width="1" />
<line x1="521.4" y1="217.5" x2="535.5" y2="217.5" stroke="#3a3a3a" stroke-width="1" />
<line x1="458.0" y1="213.5" x2="521.4" y2="213.5" stroke="#3a3a3a" stroke-width="1" />
<line x1="521.4" y1="213.5" x2="521.4" y2="220.6" stroke="#3a3a3a" stroke-width="1" />
<line x1="516.7" y1="220.6" x2="521.4" y2="220.6" stroke="#3a3a3a" stroke-width="1" />
<line x1="458.0" y1="215.0" x2="516.7" y2="215.0" stroke="#3a3a3a" stroke-width="1" />
<line x1="516.7" y1="215.0" x2="516.7" y2="221.0" stroke="#3a3a3a" stroke-width="1" />
<line x1="458.0" y1="221.0" x2="516.7" y2="221.0" stroke="#3a3a3a" stroke-width="1" />
<line x1="496.4" y1="230.0" x2="551.9" y2="230.0" stroke="#3a3a3a" stroke-width="1" />
<line x1="551.9" y1="230.0" x2="551.9" y2="278.4" stroke="#3a3a3a" stroke-width="1" />
<line x1="545.6" y1="278.4" x2="551.9" y2="278.4" stroke="#3a3a3a" stroke-width="1" />
<line x1="458.0" y1="226.0" x2="496.4" y2="226.0" stroke="#3a3a3a" stroke-width="1" />
<line x1="496.4" y1="226.0" x2="496.4" y2="233.0" stroke="#3a3a3a" stroke-width="1" />
<line x1="476.9" y1="233.0" x2="496.4" y2="233.0" stroke="#3a3a3a" stroke-width="1" />
<line x1="458.0" y1="230.0" x2="476.9" y2="230.0" stroke="#3a3a3a" stroke-width="1" />
<line x1="476.9" y1="230.0" x2="476.9" y2="235.0" stroke="#3a3a3a" stroke-width="1" />
<line x1="458.0" y1="235.0" x2="476.9" y2="235.0" stroke="#3a3a3a" stroke-width="1" />
<rect x="458.00" y="225.00" width="10.00" height="2.00" fill="#f0c080" />
<rect x="458.00" y="231.00" width="14.00" height="2.00" fill="#d0b090" />
<line x1="505.8" y1="243.3" x2="545.6" y2="243.3" stroke="#3a3a3a" stroke-width="1" />
<line x1="545.6" y1="243.3" x2="545.6" y2="287.8" stroke="#3a3a3a" stroke-width="1" />
<line x1="540.6" y1="287.8" x2="545.6" y2="287.8" stroke="#3a3a3a" stroke-width="1" />
<line x1="458.0" y1="238.6" x2="505.8" y2="238.6" stroke="#7a3030" stroke-width="1" />
<line x1="505.8" y1="238.6" x2="505.8" y2="248.0" stroke="#3a3a3a" stroke-width="1" />
<line x1="477.7" y1="248.0" x2="505.8" y2="248.0" stroke="#3a3a3a" stroke-width="1" />
<line x1="458.0" y1="242.0" x2="477.7" y2="242.0" stroke="#3a3a3a" stroke-width="1" />
<line x1="477.7" y1="242.0" x2="477.7" y2="251.0" stroke="#3a3a3a" stroke-width="1" />
<line x1="458.0" y1="251.0" x2="477.7" y2="251.0" stroke="#3a3a3a" stroke-width="1" />
<rect x="458.00" y="238.00" width="12.00" height="2.50" fill="#900" />
<rect x="458.00" y="242.00" width="10.00" height="2.50" fill="#e06060" />
<rect x="458.00" y="248.00" width="10.00" height="3.00" fill="#aaa" />
<line x1="458.0" y1="258.1" x2="540.6" y2="258.1" stroke="#3a3a3a" stroke-width="1" />
<line x1="540.6" y1="258.1" x2="540.6" y2="294.4" stroke="#3a3a3a" stroke-width="1" />
<line x1="528.4" y1="294.4" x2="540.6" y2="294.4" stroke="#3a3a3a" stroke-width="1" />
<rect x="458.00" y="257.30" width="10.00" height="1.60" fill="#f0c090" />
<line x1="523.0" y1="267.5" x2="528.4" y2="267.5" stroke="#3a3a3a" stroke-width="1" />
<line x1="528.4" y1="267.5" x2="528.4" y2="305.3" stroke="#3a3a3a" stroke-width="1" />
<line x1="514.4" y1="305.3" x2="528.4" y2="305.3" stroke="#3a3a3a" stroke-width="1" />
<line x1="458.0" y1="266.0" x2="523.0" y2="266.0" stroke="#3a3a3a" stroke-width="1" />
<line x1="523.0" y1="266.0" x2="523.0" y2="269.4" stroke="#3a3a3a" stroke-width="1" />
<line x1="458.0" y1="269.4" x2="523.0" y2="269.4" stroke="#3a3a3a" stroke-width="1" />
<rect x="458.00" y="265.00" width="55.00" height="4.00" fill="#87ceeb" />
<rect x="495.00" y="265.50" width="18.00" height="3.00" fill="#334" />
<rect x="470.00" y="267.00" width="20.00" height="2.00" fill="#6090a0" />
<rect x="458.00" y="273.00" width="56.00" height="18.00" fill="#0000ff" />
<rect x="458.00" y="287.62" width="20.62" height="1.42" fill="#334" opacity="0.85"/>
<rect x="458.00" y="286.60" width="45.57" height="1.02" fill="#fff" opacity="0.85"/>
<rect x="458.00" y="278.97" width="32.15" height="1.33" fill="#6677aa" opacity="0.85"/>
<rect x="458.00" y="280.58" width="33.69" height="1.18" fill="#334" opacity="0.85"/>
<rect x="458.00" y="284.72" width="48.60" height="0.85" fill="#fff" opacity="0.85"/>
<rect x="458.00" y="280.45" width="30.91" height="1.94" fill="#6677aa" opacity="0.85"/>
<rect x="458.00" y="277.34" width="31.48" height="1.60" fill="#fff" opacity="0.85"/>
<rect x="458.00" y="287.62" width="35.84" height="1.91" fill="#fff" opacity="0.85"/>
<rect x="458.00" y="285.17" width="17.49" height="1.20" fill="#334" opacity="0.85"/>
<polyline points="458.0,273.0 514.4,273.0 514.4,310.0" fill="none" stroke="#8080e0" stroke-width="1"/>
<line x1="458.0" y1="291.2" x2="513.6" y2="291.2" stroke="#d05030" stroke-width="1.5" />
<line x1="513.6" y1="291.0" x2="513.6" y2="310.0" stroke="#c05030" stroke-width="1" />
<rect x="458.00" y="294.40" width="38.00" height="3.10" fill="#8abf30" />
<rect x="470.00" y="294.50" width="22.00" height="2.00" fill="#506a20" />
<line x1="545.6" y1="288.0" x2="540.6" y2="288.0" stroke="#3a3a3a" stroke-width="1" />
<line x1="501.9" y1="294.0" x2="501.9" y2="320.2" stroke="#c05030" stroke-width="1" />
<line x1="507.3" y1="294.0" x2="507.3" y2="310.8" stroke="#d06040" stroke-width="1" />
<line x1="512.0" y1="294.0" x2="512.0" y2="310.8" stroke="#d06040" stroke-width="1" />
<line x1="502.0" y1="310.8" x2="512.0" y2="310.8" stroke="#3a3a3a" stroke-width="1" />
<line x1="489.4" y1="320.2" x2="501.9" y2="320.2" stroke="#3a3a3a" stroke-width="1" />
<line x1="458.0" y1="302.0" x2="489.4" y2="302.0" stroke="#3a3a3a" stroke-width="1" />
<line x1="489.4" y1="302.0" x2="489.4" y2="320.2" stroke="#3a3a3a" stroke-width="1" />
<line x1="458.0" y1="320.2" x2="489.4" y2="320.2" stroke="#3a3a3a" stroke-width="1" />
<rect x="458.00" y="297.50" width="10.00" height="3.00" fill="#ffa500" />
<rect x="458.00" y="300.50" width="12.00" height="2.00" fill="#a08060" />
<rect x="470.00" y="303.00" width="16.00" height="2.00" fill="#fff" />
<line x1="458.0" y1="308.4" x2="488.6" y2="308.4" stroke="#a05040" stroke-width="1" />
<line x1="488.6" y1="308.4" x2="488.6" y2="323.3" stroke="#c05030" stroke-width="1" />
<line x1="482.3" y1="323.3" x2="488.6" y2="323.3" stroke="#3a3a3a" stroke-width="1" />
<line x1="458.0" y1="310.0" x2="482.3" y2="310.0" stroke="#d06030" stroke-width="1" />
<line x1="482.3" y1="310.0" x2="482.3" y2="322.5" stroke="#d06030" stroke-width="1" />
<line x1="478.4" y1="322.5" x2="482.3" y2="322.5" stroke="#d06030" stroke-width="1" />
<line x1="458.0" y1="313.0" x2="478.4" y2="313.0" stroke="#3a3a3a" stroke-width="1" />
<line x1="478.4" y1="313.0" x2="478.4" y2="326.4" stroke="#3a3a3a" stroke-width="1" />
<line x1="472.2" y1="326.4" x2="478.4" y2="326.4" stroke="#3a3a3a" stroke-width="1" />
<line x1="458.0" y1="324.8" x2="472.2" y2="324.8" stroke="#3a3a3a" stroke-width="1" />
<line x1="472.2" y1="324.8" x2="472.2" y2="335.8" stroke="#3a3a3a" stroke-width="1" />
<line x1="467.5" y1="335.8" x2="472.2" y2="335.8" stroke="#3a3a3a" stroke-width="1" />
<line x1="458.0" y1="327.0" x2="467.5" y2="327.0" stroke="#3a3a3a" stroke-width="1" />
<line x1="467.5" y1="327.0" x2="467.5" y2="355.3" stroke="#3a3a3a" stroke-width="1" />
<line x1="458.0" y1="355.3" x2="467.5" y2="355.3" stroke="#3a3a3a" stroke-width="1" />
<rect x="458.00" y="312.00" width="10.00" height="5.00" fill="#ff0000" />
<rect x="458.00" y="318.00" width="8.00" height="2.00" fill="#fbb" />
<rect x="458.00" y="325.00" width="10.00" height="3.00" fill="#e0c000" />
<rect x="458.00" y="328.00" width="10.00" height="3.00" fill="#8b0000" />
<rect x="458.00" y="331.00" width="10.00" height="3.00" fill="#d02020" />
<rect x="458.00" y="340.00" width="8.00" height="2.00" fill="#fcc" />
<rect x="458.00" y="349.00" width="10.00" height="3.00" fill="#ffa500" />
<rect x="278.30" y="40.00" width="3.40" height="330.00" fill="#fff" />
<rect x="453.60" y="40.00" width="3.80" height="330.00" fill="#fff" />
<defs><linearGradient id="gB1" x1="0" x2="1" y1="0" y2="0"><stop offset="0" stop-color="#fff" stop-opacity="1"/><stop offset="0.2" stop-color="#fff" stop-opacity="0.9"/><stop offset="0.75" stop-color="#fff" stop-opacity="0"/></linearGradient><linearGradient id="gA1" x1="0" x2="1" y1="0" y2="0"><stop offset="0" stop-color="#fff" stop-opacity="1"/><stop offset="0.2" stop-color="#fff" stop-opacity="0.85"/><stop offset="0.7" stop-color="#fff" stop-opacity="0"/></linearGradient></defs>
<defs><linearGradient id="gOD1" x1="40" x2="290" y1="0" y2="0" gradientUnits="userSpaceOnUse"><stop offset="0" stop-color="#999"/><stop offset="0.16" stop-color="#c8a888"/><stop offset="0.28" stop-color="#b06a20"/><stop offset="0.8" stop-color="#e07800"/><stop offset="1" stop-color="#ff8c00"/></linearGradient><linearGradient id="gOD2" x1="40" x2="290" y1="0" y2="0" gradientUnits="userSpaceOnUse"><stop offset="0" stop-color="#777"/><stop offset="0.25" stop-color="#6a6a6a"/><stop offset="0.45" stop-color="#7a5a30"/><stop offset="0.7" stop-color="#b06010"/><stop offset="0.85" stop-color="#f08000"/><stop offset="1" stop-color="#ff8c00"/></linearGradient><linearGradient id="gOD3" x1="40" x2="290" y1="0" y2="0" gradientUnits="userSpaceOnUse"><stop offset="0" stop-color="#fff"/><stop offset="0.5" stop-color="#fff"/><stop offset="0.68" stop-color="#c07020"/><stop offset="0.85" stop-color="#ff8c00"/><stop offset="1" stop-color="#ff8c00"/></linearGradient></defs>
<rect x="40.00" y="504.00" width="250.20" height="2.80" fill="url(#gOD1)" />
<rect x="46.80" y="506.80" width="243.40" height="4.00" fill="url(#gOD2)" />
<rect x="40.00" y="510.80" width="250.20" height="11.20" fill="url(#gOD3)" />
<rect x="129.80" y="511.00" width="160.40" height="2.20" fill="#999" />
<rect x="200.00" y="511.00" width="90.00" height="2.20" fill="#b07030" opacity="0.7"/>
<rect x="70.50" y="515.00" width="23.50" height="2.00" fill="#aaa" />
<rect x="94.00" y="515.00" width="31.00" height="2.00" fill="#f8c090" />
<rect x="125.00" y="515.50" width="130.00" height="1.20" fill="#e09040" />
<rect x="225.00" y="517.00" width="40.00" height="1.50" fill="#777" />
<rect x="240.00" y="513.00" width="50.00" height="3.00" fill="#8b4500" opacity="0.6"/>
<rect x="265.00" y="516.00" width="25.00" height="6.00" fill="#ff8c00" />
<line x1="59.5" y1="511.5" x2="59.5" y2="517.0" stroke="#3a3a3a" stroke-width="1" />
<line x1="59.5" y1="512.0" x2="129.8" y2="512.0" stroke="#3a3a3a" stroke-width="1" />
<line x1="59.5" y1="517.0" x2="70.5" y2="517.0" stroke="#3a3a3a" stroke-width="1" />
<line x1="125.0" y1="517.5" x2="225.0" y2="517.5" stroke="#3a3a3a" stroke-width="1" />
<line x1="41.0" y1="506.0" x2="46.8" y2="506.0" stroke="#3a3a3a" stroke-width="1" />
<line x1="46.8" y1="506.0" x2="46.8" y2="510.0" stroke="#3a3a3a" stroke-width="1" />
<rect x="250.00" y="522.00" width="40.20" height="9.00" fill="#ff8c00" />
<rect x="161.50" y="522.00" width="110.00" height="3.00" fill="#555" />
<rect x="161.50" y="525.00" width="95.00" height="2.50" fill="#999" />
<rect x="230.00" y="527.00" width="40.00" height="2.00" fill="#8b4500" />
<rect x="166.00" y="527.50" width="30.00" height="1.50" fill="#ccc" />
<rect x="195.00" y="530.00" width="95.20" height="15.20" fill="#ffd700" />
<rect x="195.00" y="536.83" width="46.73" height="1.60" fill="#a08a30" opacity="0.9"/>
<rect x="195.00" y="542.81" width="22.79" height="1.70" fill="#777" opacity="0.9"/>
<rect x="195.00" y="537.47" width="45.46" height="0.83" fill="#777" opacity="0.9"/>
<rect x="195.00" y="540.35" width="32.69" height="1.36" fill="#777" opacity="0.9"/>
<rect x="195.00" y="540.42" width="50.28" height="1.61" fill="#a08a30" opacity="0.9"/>
<rect x="195.00" y="537.39" width="35.17" height="1.29" fill="#8a7a40" opacity="0.9"/>
<rect x="195.00" y="530.93" width="30.35" height="1.61" fill="#8a7a40" opacity="0.9"/>
<rect x="195.00" y="538.26" width="56.30" height="1.89" fill="#8a7a40" opacity="0.9"/>
<rect x="195.00" y="543.32" width="43.73" height="1.11" fill="#8a7a40" opacity="0.9"/>
<rect x="195.00" y="542.68" width="56.18" height="1.11" fill="#777" opacity="0.9"/>
<rect x="195.00" y="534.11" width="41.80" height="1.32" fill="#8a7a40" opacity="0.9"/>
<rect x="195.00" y="533.07" width="44.42" height="1.12" fill="#777" opacity="0.9"/>
<rect x="195.00" y="530.00" width="14.00" height="14.00" fill="#8a7a40" opacity="0.7"/>
<rect x="195.00" y="545.00" width="95.20" height="55.00" fill="#ff8c00" />
<rect x="195.00" y="546.65" width="56.85" height="2.04" fill="#8b4500" opacity="0.9"/>
<rect x="195.00" y="570.83" width="41.89" height="1.42" fill="#8b4500" opacity="0.9"/>
<rect x="195.00" y="591.09" width="50.38" height="1.36" fill="#a06020" opacity="0.9"/>
<rect x="195.00" y="596.41" width="36.78" height="1.36" fill="#6a3a10" opacity="0.9"/>
<rect x="195.00" y="570.24" width="57.30" height="2.14" fill="#8b4500" opacity="0.9"/>
<rect x="195.00" y="573.10" width="51.37" height="1.21" fill="#6a3a10" opacity="0.9"/>
<rect x="195.00" y="577.74" width="54.87" height="1.78" fill="#6a3a10" opacity="0.9"/>
<rect x="195.00" y="559.93" width="54.74" height="1.80" fill="#6a3a10" opacity="0.9"/>
<rect x="195.00" y="582.22" width="28.41" height="1.04" fill="#8b4500" opacity="0.9"/>
<rect x="195.00" y="575.78" width="46.79" height="1.90" fill="#7a4a20" opacity="0.9"/>
<rect x="195.00" y="589.96" width="66.94" height="1.18" fill="#6a3a10" opacity="0.9"/>
<rect x="195.00" y="585.87" width="46.08" height="1.95" fill="#7a4a20" opacity="0.9"/>
<rect x="195.00" y="580.85" width="24.92" height="2.01" fill="#888" opacity="0.9"/>
<rect x="195.00" y="574.31" width="35.15" height="2.05" fill="#8b4500" opacity="0.9"/>
<rect x="195.00" y="582.48" width="67.90" height="1.13" fill="#8b4500" opacity="0.9"/>
<rect x="195.00" y="577.04" width="51.57" height="1.28" fill="#a06020" opacity="0.9"/>
<rect x="195.00" y="555.84" width="65.87" height="1.75" fill="#6a3a10" opacity="0.9"/>
<rect x="195.00" y="587.93" width="37.86" height="1.72" fill="#8b4500" opacity="0.9"/>
<rect x="195.00" y="579.33" width="58.60" height="2.05" fill="#a06020" opacity="0.9"/>
<rect x="195.00" y="553.49" width="35.31" height="1.72" fill="#888" opacity="0.9"/>
<rect x="195.00" y="586.29" width="20.49" height="1.85" fill="#6a3a10" opacity="0.9"/>
<rect x="195.00" y="576.76" width="28.65" height="1.49" fill="#6a3a10" opacity="0.9"/>
<rect x="195.00" y="565.23" width="39.25" height="2.13" fill="#a06020" opacity="0.9"/>
<rect x="195.00" y="577.28" width="48.80" height="2.08" fill="#a06020" opacity="0.9"/>
<rect x="195.00" y="554.06" width="62.15" height="2.02" fill="#6a3a10" opacity="0.9"/>
<rect x="195.00" y="553.70" width="44.27" height="1.24" fill="#6a3a10" opacity="0.9"/>
<rect x="195.00" y="571.75" width="69.88" height="1.34" fill="#a06020" opacity="0.9"/>
<rect x="195.00" y="574.14" width="33.44" height="1.77" fill="#a06020" opacity="0.9"/>
<rect x="195.00" y="565.68" width="68.02" height="1.06" fill="#7a4a20" opacity="0.9"/>
<rect x="195.00" y="578.46" width="49.55" height="2.14" fill="#a06020" opacity="0.9"/>
<rect x="195.00" y="585.44" width="66.21" height="2.14" fill="#888" opacity="0.9"/>
<rect x="195.00" y="578.19" width="38.07" height="1.55" fill="#888" opacity="0.9"/>
<rect x="195.00" y="598.94" width="26.55" height="1.06" fill="#6a3a10" opacity="0.9"/>
<rect x="195.00" y="546.90" width="54.43" height="1.31" fill="#a06020" opacity="0.9"/>
<rect x="195.00" y="572.86" width="64.74" height="1.86" fill="#888" opacity="0.9"/>
<rect x="195.00" y="572.42" width="37.59" height="2.13" fill="#6a3a10" opacity="0.9"/>
<rect x="195.00" y="598.11" width="52.29" height="1.30" fill="#888" opacity="0.9"/>
<rect x="195.00" y="558.33" width="24.19" height="1.00" fill="#6a3a10" opacity="0.9"/>
<rect x="195.00" y="567.39" width="69.75" height="2.02" fill="#8b4500" opacity="0.9"/>
<rect x="195.00" y="575.25" width="61.25" height="2.19" fill="#6a3a10" opacity="0.9"/>
<rect x="195.00" y="554.18" width="41.06" height="1.17" fill="#888" opacity="0.9"/>
<rect x="195.00" y="563.13" width="29.21" height="1.02" fill="#8b4500" opacity="0.9"/>
<rect x="195.00" y="546.47" width="24.11" height="2.11" fill="#a06020" opacity="0.9"/>
<rect x="195.00" y="570.09" width="19.52" height="1.30" fill="#888" opacity="0.9"/>
<rect x="195.00" y="596.89" width="41.55" height="1.73" fill="#8b4500" opacity="0.9"/>
<rect x="200.00" y="550.00" width="56.00" height="1.50" fill="#ddd" />
<rect x="200.00" y="557.00" width="40.00" height="1.50" fill="#aaa" />
<rect x="197.00" y="586.00" width="18.00" height="2.00" fill="#fff" />
<rect x="196.00" y="548.00" width="5.00" height="18.00" fill="#fff" />
<rect x="201.00" y="552.00" width="50.00" height="2.00" fill="#999" />
<rect x="201.00" y="562.00" width="70.00" height="2.00" fill="#777" />
<rect x="213.00" y="600.00" width="77.20" height="17.00" fill="#ffd700" />
<rect x="213.00" y="603.85" width="43.72" height="0.92" fill="#8a7a20" opacity="0.85"/>
<rect x="213.00" y="610.02" width="39.18" height="0.86" fill="#a59a50" opacity="0.85"/>
<rect x="213.00" y="610.80" width="25.13" height="1.15" fill="#6b5a10" opacity="0.85"/>
<rect x="213.00" y="605.40" width="53.35" height="0.93" fill="#6b5a10" opacity="0.85"/>
<rect x="213.00" y="606.32" width="51.69" height="1.52" fill="#a59a50" opacity="0.85"/>
<rect x="213.00" y="604.82" width="49.99" height="1.24" fill="#a59a50" opacity="0.85"/>
<rect x="213.00" y="610.76" width="37.36" height="1.32" fill="#6b5a10" opacity="0.85"/>
<rect x="213.00" y="615.21" width="49.88" height="1.77" fill="#6b5a10" opacity="0.85"/>
<rect x="271.20" y="617.00" width="19.00" height="17.30" fill="#008b00" />
<rect x="273.20" y="626.00" width="14.00" height="1.20" fill="#cfc" />
<rect x="213.00" y="617.00" width="58.00" height="5.00" fill="#fff" />
<rect x="230.00" y="635.50" width="60.20" height="26.50" fill="#ffd700" />
<rect x="230.00" y="658.35" width="14.77" height="1.04" fill="#8a7a20" opacity="0.85"/>
<rect x="230.00" y="644.03" width="25.26" height="1.85" fill="#333" opacity="0.85"/>
<rect x="230.00" y="652.80" width="28.59" height="1.57" fill="#fff" opacity="0.85"/>
<rect x="230.00" y="637.07" width="15.75" height="1.46" fill="#333" opacity="0.85"/>
<rect x="230.00" y="657.64" width="35.27" height="1.76" fill="#5a4a10" opacity="0.85"/>
<rect x="230.00" y="639.71" width="24.78" height="1.84" fill="#5a4a10" opacity="0.85"/>
<rect x="230.00" y="655.54" width="31.27" height="1.56" fill="#fff" opacity="0.85"/>
<rect x="230.00" y="635.88" width="19.97" height="1.04" fill="#5a4a10" opacity="0.85"/>
<rect x="230.00" y="660.33" width="29.26" height="1.67" fill="#5a4a10" opacity="0.85"/>
<rect x="230.00" y="641.96" width="32.71" height="1.99" fill="#5a4a10" opacity="0.85"/>
<rect x="230.00" y="647.67" width="16.50" height="1.64" fill="#fff" opacity="0.85"/>
<rect x="230.00" y="657.08" width="29.36" height="1.49" fill="#fff" opacity="0.85"/>
<rect x="230.00" y="659.68" width="24.66" height="1.03" fill="#5a4a10" opacity="0.85"/>
<rect x="230.00" y="659.09" width="18.23" height="1.20" fill="#5a4a10" opacity="0.85"/>
<rect x="230.00" y="662.00" width="60.20" height="19.00" fill="#ff8c00" />
<rect x="230.00" y="676.78" width="41.47" height="1.52" fill="#8b4500" opacity="0.85"/>
<rect x="230.00" y="675.55" width="27.26" height="0.94" fill="#603000" opacity="0.85"/>
<rect x="230.00" y="679.20" width="45.32" height="1.13" fill="#603000" opacity="0.85"/>
<rect x="230.00" y="677.58" width="34.96" height="1.49" fill="#603000" opacity="0.85"/>
<rect x="230.00" y="679.16" width="36.03" height="1.42" fill="#fff" opacity="0.85"/>
<rect x="230.00" y="676.57" width="33.80" height="0.93" fill="#8b4500" opacity="0.85"/>
<rect x="232.00" y="668.00" width="40.00" height="4.50" fill="#fff" />
<rect x="232.00" y="676.00" width="50.00" height="2.00" fill="#603000" />
<rect x="287.20" y="681.00" width="3.00" height="22.00" fill="#008b00" />
<rect x="266.40" y="703.20" width="23.80" height="11.50" fill="#008b00" />
<rect x="245.80" y="692.00" width="40.00" height="1.20" fill="#c0a080" />
<rect x="262.00" y="715.50" width="28.20" height="107.00" fill="#ffd700" />
<rect x="262.00" y="740.95" width="12.12" height="1.03" fill="#333" opacity="0.9"/>
<rect x="262.00" y="774.71" width="18.36" height="1.78" fill="#4a4010" opacity="0.9"/>
<rect x="262.00" y="750.59" width="17.18" height="1.44" fill="#333" opacity="0.9"/>
<rect x="262.00" y="818.89" width="7.47" height="1.41" fill="#999" opacity="0.9"/>
<rect x="262.00" y="783.51" width="7.39" height="1.38" fill="#999" opacity="0.9"/>
<rect x="262.00" y="783.29" width="16.79" height="1.63" fill="#333" opacity="0.9"/>
<rect x="262.00" y="766.75" width="22.81" height="1.57" fill="#333" opacity="0.9"/>
<rect x="262.00" y="733.81" width="22.07" height="0.96" fill="#4a4010" opacity="0.9"/>
<rect x="262.00" y="781.37" width="21.55" height="0.86" fill="#8a7a30" opacity="0.9"/>
<rect x="262.00" y="758.82" width="10.31" height="1.17" fill="#4a4010" opacity="0.9"/>
<rect x="262.00" y="750.64" width="7.15" height="1.14" fill="#8a7a30" opacity="0.9"/>
<rect x="262.00" y="716.23" width="21.85" height="1.20" fill="#4a4010" opacity="0.9"/>
<rect x="262.00" y="764.22" width="12.95" height="0.82" fill="#6b5a10" opacity="0.9"/>
<rect x="262.00" y="821.07" width="19.19" height="1.43" fill="#a09040" opacity="0.9"/>
<rect x="262.00" y="735.15" width="14.88" height="0.87" fill="#999" opacity="0.9"/>
<rect x="262.00" y="783.35" width="21.96" height="2.09" fill="#8a7a30" opacity="0.9"/>
<rect x="262.00" y="817.75" width="4.79" height="1.55" fill="#8a7a30" opacity="0.9"/>
<rect x="262.00" y="737.12" width="9.86" height="1.62" fill="#999" opacity="0.9"/>
<rect x="262.00" y="809.87" width="22.60" height="1.18" fill="#6b5a10" opacity="0.9"/>
<rect x="262.00" y="781.80" width="23.63" height="1.16" fill="#999" opacity="0.9"/>
<rect x="262.00" y="738.73" width="18.63" height="1.78" fill="#999" opacity="0.9"/>
<rect x="262.00" y="722.26" width="16.22" height="2.15" fill="#a09040" opacity="0.9"/>
<rect x="262.00" y="817.75" width="10.71" height="1.32" fill="#8a7a30" opacity="0.9"/>
<rect x="262.00" y="782.27" width="16.38" height="1.69" fill="#333" opacity="0.9"/>
<rect x="262.00" y="770.25" width="9.01" height="2.20" fill="#6b5a10" opacity="0.9"/>
<rect x="262.00" y="744.41" width="15.42" height="1.81" fill="#6b5a10" opacity="0.9"/>
<rect x="262.00" y="753.06" width="13.75" height="1.74" fill="#4a4010" opacity="0.9"/>
<rect x="262.00" y="756.43" width="11.50" height="1.19" fill="#a09040" opacity="0.9"/>
<rect x="262.00" y="795.98" width="9.17" height="1.29" fill="#6b5a10" opacity="0.9"/>
<rect x="262.00" y="723.05" width="5.40" height="1.37" fill="#4a4010" opacity="0.9"/>
<rect x="262.00" y="813.57" width="5.09" height="1.95" fill="#a09040" opacity="0.9"/>
<rect x="262.00" y="732.10" width="20.15" height="1.32" fill="#999" opacity="0.9"/>
<rect x="262.00" y="780.96" width="4.41" height="1.50" fill="#999" opacity="0.9"/>
<rect x="262.00" y="795.58" width="18.86" height="1.00" fill="#4a4010" opacity="0.9"/>
<rect x="262.00" y="751.99" width="9.50" height="0.91" fill="#333" opacity="0.9"/>
<rect x="262.00" y="757.96" width="16.38" height="1.22" fill="#a09040" opacity="0.9"/>
<rect x="262.00" y="793.66" width="7.96" height="1.17" fill="#a09040" opacity="0.9"/>
<rect x="262.00" y="769.88" width="16.27" height="0.91" fill="#6b5a10" opacity="0.9"/>
<rect x="262.00" y="716.47" width="6.62" height="1.46" fill="#8a7a30" opacity="0.9"/>
<rect x="262.00" y="721.91" width="12.95" height="2.10" fill="#8a7a30" opacity="0.9"/>
<rect x="262.00" y="747.52" width="22.36" height="1.97" fill="#4a4010" opacity="0.9"/>
<rect x="262.00" y="718.22" width="14.62" height="1.89" fill="#6b5a10" opacity="0.9"/>
<rect x="262.00" y="817.88" width="13.48" height="1.52" fill="#999" opacity="0.9"/>
<rect x="262.00" y="718.46" width="21.84" height="1.90" fill="#a09040" opacity="0.9"/>
<rect x="262.00" y="819.65" width="23.16" height="2.12" fill="#999" opacity="0.9"/>
<rect x="262.00" y="781.42" width="17.88" height="0.91" fill="#a09040" opacity="0.9"/>
<rect x="262.00" y="745.54" width="18.74" height="1.30" fill="#a09040" opacity="0.9"/>
<rect x="262.00" y="719.47" width="20.76" height="1.85" fill="#999" opacity="0.9"/>
<rect x="262.00" y="807.56" width="14.35" height="0.93" fill="#4a4010" opacity="0.9"/>
<rect x="262.00" y="733.76" width="10.39" height="1.72" fill="#333" opacity="0.9"/>
<rect x="262.00" y="767.89" width="17.41" height="1.77" fill="#6b5a10" opacity="0.9"/>
<rect x="262.00" y="764.25" width="22.03" height="2.16" fill="#333" opacity="0.9"/>
<rect x="262.00" y="725.62" width="16.11" height="0.96" fill="#a09040" opacity="0.9"/>
<rect x="262.00" y="798.21" width="19.55" height="2.17" fill="#8a7a30" opacity="0.9"/>
<rect x="262.00" y="759.28" width="15.04" height="0.82" fill="#333" opacity="0.9"/>
<rect x="262.00" y="809.89" width="15.45" height="1.26" fill="#333" opacity="0.9"/>
<rect x="262.00" y="726.68" width="8.82" height="1.23" fill="#4a4010" opacity="0.9"/>
<rect x="262.00" y="747.91" width="21.81" height="1.52" fill="#999" opacity="0.9"/>
<rect x="262.00" y="742.96" width="13.97" height="1.55" fill="#4a4010" opacity="0.9"/>
<rect x="262.00" y="813.08" width="11.46" height="1.95" fill="#8a7a30" opacity="0.9"/>
<rect x="262.00" y="763.30" width="9.51" height="1.22" fill="#333" opacity="0.9"/>
<rect x="262.00" y="771.03" width="19.26" height="1.45" fill="#6b5a10" opacity="0.9"/>
<rect x="262.00" y="812.00" width="21.53" height="1.76" fill="#4a4010" opacity="0.9"/>
<rect x="262.00" y="791.83" width="5.02" height="1.06" fill="#999" opacity="0.9"/>
<rect x="262.00" y="781.57" width="4.27" height="1.89" fill="#999" opacity="0.9"/>
<rect x="262.00" y="740.61" width="23.73" height="0.91" fill="#999" opacity="0.9"/>
<rect x="262.00" y="739.74" width="5.52" height="1.08" fill="#6b5a10" opacity="0.9"/>
<rect x="262.00" y="785.98" width="16.43" height="1.02" fill="#4a4010" opacity="0.9"/>
<rect x="262.00" y="770.43" width="18.82" height="1.78" fill="#333" opacity="0.9"/>
<rect x="262.00" y="777.60" width="20.39" height="1.75" fill="#333" opacity="0.9"/>
<rect x="262.00" y="783.57" width="16.87" height="1.57" fill="#8a7a30" opacity="0.9"/>
<rect x="262.00" y="800.04" width="12.85" height="1.91" fill="#333" opacity="0.9"/>
<rect x="262.00" y="775.23" width="23.67" height="1.26" fill="#333" opacity="0.9"/>
<rect x="262.00" y="764.20" width="23.03" height="1.24" fill="#8a7a30" opacity="0.9"/>
<rect x="262.00" y="739.48" width="6.59" height="1.14" fill="#6b5a10" opacity="0.9"/>
<rect x="262.00" y="770.44" width="17.50" height="0.96" fill="#4a4010" opacity="0.9"/>
<rect x="262.00" y="762.29" width="14.77" height="2.08" fill="#4a4010" opacity="0.9"/>
<rect x="262.00" y="791.35" width="23.31" height="2.06" fill="#6b5a10" opacity="0.9"/>
<rect x="262.00" y="749.62" width="19.66" height="1.75" fill="#333" opacity="0.9"/>
<rect x="262.00" y="800.89" width="19.59" height="2.20" fill="#999" opacity="0.9"/>
<rect x="263.00" y="729.00" width="24.00" height="3.00" fill="#fff" />
<rect x="263.00" y="735.00" width="26.00" height="4.00" fill="#fff" />
<line x1="263.0" y1="739.5" x2="289.0" y2="739.5" stroke="#222" stroke-width="1" />
<rect x="264.00" y="742.00" width="6.00" height="2.00" fill="#fff" />
<rect x="262.00" y="775.00" width="20.00" height="3.00" fill="#fff" />
<rect x="262.00" y="779.00" width="8.00" height="2.00" fill="#fff" />
<rect x="263.00" y="814.00" width="15.00" height="3.00" fill="#fff" />
<rect x="262.00" y="760.00" width="10.00" height="2.00" fill="#fff" />
<rect x="262.00" y="750.00" width="28.00" height="1.50" fill="#222" />
<rect x="262.00" y="770.00" width="30.00" height="1.20" fill="#333" />
<rect x="262.00" y="795.00" width="24.00" height="1.20" fill="#333" />
<rect x="260.00" y="806.00" width="30.20" height="5.50" fill="#ff8c00" />
<polyline points="40.2,504.8 0.5,504.8 0.5,592.7 40.2,592.7" fill="none" stroke="#3a3a3a" stroke-width="1"/>
<polyline points="45.0,506.0 40.2,506.0 40.2,597.3 161.5,597.3" fill="none" stroke="#3a3a3a" stroke-width="1"/>
<polyline points="166.0,522.3 161.5,522.3 161.5,604.0 195.0,604.0" fill="none" stroke="#3a3a3a" stroke-width="1"/>
<line x1="195.0" y1="531.0" x2="195.0" y2="673.0" stroke="#3a3a3a" stroke-width="1" />
<line x1="195.0" y1="673.0" x2="201.9" y2="673.0" stroke="#3a3a3a" stroke-width="1" />
<line x1="201.9" y1="609.4" x2="201.9" y2="682.0" stroke="#3a3a3a" stroke-width="1" />
<line x1="201.9" y1="609.4" x2="212.8" y2="609.4" stroke="#3a3a3a" stroke-width="1" />
<line x1="201.9" y1="682.0" x2="209.4" y2="682.0" stroke="#3a3a3a" stroke-width="1" />
<line x1="212.8" y1="600.0" x2="212.8" y2="621.9" stroke="#3a3a3a" stroke-width="1" />
<line x1="212.8" y1="621.9" x2="264.4" y2="621.9" stroke="#3a3a3a" stroke-width="1" />
<polyline points="264.4,617.0 271.0,617.0" fill="none" stroke="#3a3a3a" stroke-width="1"/>
<line x1="209.4" y1="635.6" x2="209.4" y2="685.2" stroke="#3a3a3a" stroke-width="1" />
<line x1="209.4" y1="635.6" x2="230.0" y2="635.6" stroke="#c8a000" stroke-width="1" />
<line x1="209.4" y1="685.2" x2="229.5" y2="685.2" stroke="#3a3a3a" stroke-width="1" />
<line x1="229.5" y1="635.6" x2="229.5" y2="742.3" stroke="#3a3a3a" stroke-width="1" />
<line x1="229.5" y1="695.8" x2="233.5" y2="695.8" stroke="#3a3a3a" stroke-width="1" />
<line x1="233.5" y1="692.0" x2="233.5" y2="706.5" stroke="#3a3a3a" stroke-width="1" />
<line x1="233.5" y1="706.5" x2="267.0" y2="706.5" stroke="#3a3a3a" stroke-width="1" />
<line x1="233.5" y1="716.0" x2="233.5" y2="742.0" stroke="#e0c040" stroke-width="1" />
<line x1="229.5" y1="742.3" x2="242.5" y2="742.3" stroke="#3a3a3a" stroke-width="1" />
<line x1="242.5" y1="716.0" x2="242.5" y2="744.0" stroke="#c0a030" stroke-width="1" />
<line x1="242.5" y1="744.0" x2="259.0" y2="744.0" stroke="#3a3a3a" stroke-width="1" />
<line x1="259.0" y1="716.0" x2="259.0" y2="748.0" stroke="#444" stroke-width="1" />
<line x1="260.7" y1="720.0" x2="260.7" y2="750.0" stroke="#222" stroke-width="1.5" />
<line x1="262.0" y1="750.0" x2="262.0" y2="822.0" stroke="#3a3a3a" stroke-width="1" />
<polygon points="294.2,600.0 473.6,576.0 473.6,822.5 393.0,770.0 333.0,775.0 294.2,822.5" fill="#ffd700" />
<polygon points="294.2,598.0 473.6,560.0 473.6,576.0 466.0,581.0 410.0,655.0 380.0,648.0 330.0,630.0 294.2,612.0" fill="#fff" />
<polygon points="294.2,604.0 473.6,755.0 473.6,780.0 294.2,617.0" fill="#ffd700" />
<polygon points="294.2,524.0 473.6,745.0 473.6,800.0 294.2,545.0" fill="#ffd700" />
<polygon points="294.2,527.0 473.6,752.0 473.6,753.5 294.2,527.8" fill="#fff" />
<polygon points="294.2,529.5 473.6,758.0 473.6,759.5 294.2,530.3" fill="#fff" />
<polygon points="294.2,532.0 473.6,764.0 473.6,765.5 294.2,532.8" fill="#fff" />
<polygon points="294.2,534.5 473.6,770.0 473.6,771.5 294.2,535.3" fill="#fff" />
<polygon points="294.2,537.0 473.6,777.0 473.6,778.5 294.2,537.8" fill="#fff" />
<polygon points="294.2,503.5 305.0,516.5 473.6,561.0 473.6,563.0 312.0,524.0 294.2,522.0" fill="#ff8c00" />
<polygon points="294.2,510.0 345.9,584.0 357.6,600.0 392.0,646.9 407.5,668.0 429.4,668.0 412.0,646.9 373.2,600.0 360.0,584.0 313.0,516.0 294.2,503.5" fill="#ff8c00" />
<polygon points="294.2,503.5 305.0,516.5 345.3,530.0 350.0,545.0 294.2,545.0" fill="#ff8c00" />
<polygon points="312.0,524.3 319.0,535.4 337.5,532.8" fill="#fff" />
<polygon points="294.2,531.0 301.0,541.0 294.2,544.0" fill="#ffd700" />
<polygon points="294.2,599.0 473.6,735.0 473.6,750.0 294.2,611.0" fill="#ff8c00" />
<polygon points="294.2,539.8 473.6,502.6 473.6,504.4 294.2,543.2" fill="#ffd700" />
<polygon points="294.2,543.0 473.6,504.2 473.6,563.0 294.2,598.0" fill="#ff8c00" />
<polygon points="340.0,540.0 380.0,528.0 382.0,529.0 345.0,541.0" fill="#ffc060" />
<polygon points="450.0,524.0 457.0,522.0 418.0,533.0 416.0,533.0" fill="#fff0d0" />
<polygon points="350.0,563.0 405.0,550.0 415.0,548.0 355.0,563.0" fill="#ffc040" />
<polygon points="420.0,551.0 450.0,544.0 463.0,543.0 425.0,552.0" fill="#fff" />
<polygon points="305.0,580.0 345.0,568.0 347.0,569.0 308.0,581.0" fill="#ffc040" />
<polygon points="400.0,522.0 440.0,514.0 442.0,515.0 402.0,523.0" fill="#ffe0b0" />
<polygon points="294.2,616.0 473.6,683.0 473.6,689.0 294.2,636.0" fill="#008b00" />
<polygon points="294.2,663.0 473.6,668.0 473.6,683.0 294.2,681.0" fill="#ff8c00" />
<polygon points="465.0,580.0 473.6,576.0 473.6,579.0 413.0,652.0 411.0,650.0" fill="#ff8c00" />
<polygon points="294.2,700.0 473.6,712.0 473.6,722.0 294.2,705.0" fill="#ff8c00" />
<polygon points="294.2,670.0 473.6,567.0 473.6,577.0 294.2,687.0" fill="#008b00" />
<polygon points="294.2,675.5 473.6,576.0 473.6,578.0 294.2,677.5" fill="#ff8c00" />
<polygon points="294.2,693.0 342.0,697.0 473.6,683.0 473.6,722.0 342.0,709.0 294.2,715.0" fill="#008b00" />
<polygon points="389.0,703.0 438.6,698.4 473.6,710.0 473.6,712.0" fill="#ff8c00" />
<polygon points="420.0,703.0 440.0,701.0 450.0,706.0" fill="#ffe080" />
<polygon points="360.0,708.0 473.6,721.5 473.6,748.8 349.5,710.7" fill="#ff8c00" />
<polygon points="400.0,716.0 445.0,726.0 447.0,728.0 402.0,718.0" fill="#fff" />
<polygon points="420.0,724.0 450.0,738.0 449.0,740.0 418.0,726.0" fill="#ffe070" />
<polygon points="294.2,690.0 473.6,747.0 473.6,751.0 294.2,694.0" fill="#008b00" />
<line x1="294.2" y1="807.5" x2="370" y2="707" stroke="#ff8c00" stroke-width="1.8" stroke-dasharray="7,7"/>
<polygon points="351.5,753.7 369.0,745.0 384.7,752.7 372.0,752.0" fill="#fff" />
<polygon points="341.7,764.5 380.8,762.5 381.0,764.0 341.0,766.5" fill="#fff" />
<polygon points="335.9,772.3 386.6,767.4 387.0,769.5 335.0,774.5" fill="#fff" />
<polygon points="345.0,758.0 375.0,757.0 375.0,758.5 345.0,759.5" fill="#fff" />
<polygon points="408.0,767.4 439.4,793.8 437.0,794.0 405.0,769.0" fill="#fff" />
<polygon points="395.0,765.0 425.0,785.0 423.0,786.0 392.0,767.0" fill="#fff" />
<polygon points="412.0,733.0 427.7,745.0 426.0,746.0 410.0,734.5" fill="#fff" />
<polygon points="352.0,741.0 368.0,737.0 366.0,739.0" fill="#fff" />
<rect x="477.80" y="504.20" width="10.00" height="58.00" fill="#ff8c00" />
<rect x="488.00" y="505.49" width="31.24" height="1.58" fill="#603000" opacity="0.9"/>
<rect x="488.00" y="513.29" width="51.66" height="1.52" fill="#ff8c00" opacity="0.9"/>
<rect x="488.00" y="506.93" width="18.40" height="1.64" fill="#ff8c00" opacity="0.9"/>
<rect x="488.00" y="510.59" width="33.99" height="1.13" fill="#ff8c00" opacity="0.9"/>
<rect x="488.00" y="510.88" width="29.32" height="1.23" fill="#c06010" opacity="0.9"/>
<rect x="488.00" y="515.82" width="25.12" height="1.32" fill="#c06010" opacity="0.9"/>
<rect x="488.00" y="512.04" width="28.39" height="1.18" fill="#c06010" opacity="0.9"/>
<rect x="488.00" y="504.53" width="33.62" height="1.88" fill="#ff8c00" opacity="0.9"/>
<rect x="488.00" y="515.10" width="16.53" height="1.91" fill="#603000" opacity="0.9"/>
<rect x="488.00" y="517.03" width="42.47" height="1.81" fill="#c06010" opacity="0.9"/>
<rect x="488.00" y="512.54" width="24.41" height="1.53" fill="#603000" opacity="0.9"/>
<rect x="488.00" y="504.28" width="30.44" height="1.71" fill="#c06010" opacity="0.9"/>
<rect x="488.00" y="533.74" width="15.26" height="1.58" fill="#333" opacity="0.9"/>
<rect x="488.00" y="531.32" width="8.79" height="1.47" fill="#333" opacity="0.9"/>
<rect x="488.00" y="541.97" width="21.43" height="1.49" fill="#ff8c00" opacity="0.9"/>
<rect x="488.00" y="532.94" width="21.93" height="1.36" fill="#c06010" opacity="0.9"/>
<rect x="488.00" y="520.80" width="11.43" height="1.41" fill="#c06010" opacity="0.9"/>
<rect x="488.00" y="532.38" width="18.99" height="1.00" fill="#ff8c00" opacity="0.9"/>
<rect x="488.00" y="543.58" width="10.06" height="1.24" fill="#c06010" opacity="0.9"/>
<rect x="488.00" y="525.87" width="10.80" height="1.42" fill="#c06010" opacity="0.9"/>
<rect x="488.00" y="524.92" width="17.27" height="1.98" fill="#333" opacity="0.9"/>
<rect x="488.00" y="535.35" width="19.17" height="1.15" fill="#8b4500" opacity="0.9"/>
<rect x="488.00" y="542.45" width="20.73" height="1.70" fill="#8b4500" opacity="0.9"/>
<rect x="488.00" y="524.38" width="23.40" height="1.89" fill="#ff8c00" opacity="0.9"/>
<rect x="488.00" y="545.71" width="8.34" height="1.62" fill="#8b4500" opacity="0.9"/>
<rect x="488.00" y="545.38" width="5.31" height="1.27" fill="#8b4500" opacity="0.9"/>
<rect x="488.00" y="549.79" width="11.45" height="1.67" fill="#333" opacity="0.9"/>
<rect x="488.00" y="551.10" width="6.07" height="1.06" fill="#ff8c00" opacity="0.9"/>
<rect x="488.00" y="556.30" width="11.35" height="1.12" fill="#8b4500" opacity="0.9"/>
<rect x="488.00" y="557.90" width="6.71" height="1.74" fill="#333" opacity="0.9"/>
<rect x="488.00" y="545.35" width="9.75" height="1.95" fill="#ff8c00" opacity="0.9"/>
<rect x="488.00" y="560.67" width="9.39" height="1.33" fill="#8b4500" opacity="0.9"/>
<rect x="477.80" y="557.59" width="7.71" height="0.99" fill="#8b4500" opacity="0.75"/>
<rect x="477.80" y="531.65" width="6.72" height="1.59" fill="#a05000" opacity="0.75"/>
<rect x="477.80" y="518.49" width="8.74" height="1.33" fill="#a05000" opacity="0.75"/>
<rect x="477.80" y="521.27" width="5.25" height="1.42" fill="#603000" opacity="0.75"/>
<rect x="477.80" y="511.18" width="8.39" height="1.47" fill="#8b4500" opacity="0.75"/>
<rect x="477.80" y="559.37" width="6.92" height="1.22" fill="#603000" opacity="0.75"/>
<rect x="477.80" y="522.63" width="6.88" height="1.06" fill="#a05000" opacity="0.75"/>
<rect x="477.80" y="521.69" width="9.75" height="1.00" fill="#8b4500" opacity="0.75"/>
<rect x="477.80" y="512.23" width="5.49" height="0.92" fill="#603000" opacity="0.75"/>
<rect x="477.80" y="519.31" width="7.03" height="1.41" fill="#a05000" opacity="0.75"/>
<rect x="477.80" y="549.85" width="5.30" height="1.14" fill="#603000" opacity="0.75"/>
<rect x="477.80" y="546.13" width="7.31" height="1.16" fill="#a05000" opacity="0.75"/>
<rect x="477.80" y="519.76" width="9.22" height="1.05" fill="#a05000" opacity="0.75"/>
<rect x="477.80" y="527.63" width="7.26" height="1.46" fill="#a05000" opacity="0.75"/>
<rect x="477.80" y="505.40" width="5.68" height="1.59" fill="#a05000" opacity="0.75"/>
<rect x="477.80" y="518.85" width="9.79" height="1.32" fill="#a05000" opacity="0.75"/>
<rect x="477.80" y="548.98" width="9.54" height="1.48" fill="#a05000" opacity="0.75"/>
<rect x="477.80" y="533.94" width="7.77" height="1.41" fill="#a05000" opacity="0.75"/>
<rect x="488.00" y="504.50" width="50.00" height="4.50" fill="#ff8c00" />
<rect x="520.00" y="505.00" width="20.00" height="2.00" fill="#603000" />
<rect x="488.00" y="507.00" width="40.00" height="1.50" fill="#8b4500" />
<rect x="488.00" y="509.00" width="32.00" height="4.00" fill="#c06010" />
<rect x="488.00" y="510.00" width="28.00" height="1.50" fill="#333" />
<rect x="488.00" y="517.00" width="27.00" height="4.00" fill="#8b4500" />
<rect x="500.00" y="518.00" width="14.00" height="1.50" fill="#333" />
<rect x="488.00" y="526.00" width="27.00" height="4.00" fill="#ff8c00" />
<rect x="488.00" y="527.50" width="20.00" height="1.50" fill="#603000" />
<rect x="488.00" y="545.00" width="14.00" height="5.00" fill="#ff8c00" />
<rect x="488.00" y="547.00" width="8.00" height="1.50" fill="#333" />
<rect x="488.00" y="531.00" width="10.00" height="4.00" fill="#fff" />
<rect x="490.00" y="537.00" width="10.00" height="3.00" fill="#fff" />
<rect x="490.00" y="552.00" width="8.00" height="4.00" fill="#fff" />
<rect x="488.00" y="556.00" width="6.00" height="3.00" fill="#fff" />
<rect x="477.80" y="561.80" width="10.00" height="3.20" fill="#008b00" />
<rect x="477.80" y="563.00" width="10.00" height="2.00" fill="#dfd" />
<polyline points="477.8,504.2 573.3,504.2 573.3,518.8" fill="none" stroke="#f0a040" stroke-width="1"/>
<line x1="537.5" y1="504.5" x2="542.7" y2="504.5" stroke="#3a3a3a" stroke-width="1" />
<line x1="542.7" y1="504.5" x2="542.7" y2="520.0" stroke="#3a3a3a" stroke-width="1" />
<line x1="537.5" y1="520.0" x2="542.7" y2="520.0" stroke="#3a3a3a" stroke-width="1" />
<line x1="535.5" y1="505.0" x2="537.5" y2="505.0" stroke="#3a3a3a" stroke-width="1" />
<line x1="537.5" y1="505.0" x2="537.5" y2="521.0" stroke="#3a3a3a" stroke-width="1" />
<line x1="535.5" y1="521.0" x2="537.5" y2="521.0" stroke="#3a3a3a" stroke-width="1" />
<line x1="527.0" y1="508.0" x2="535.5" y2="508.0" stroke="#3a3a3a" stroke-width="1" />
<line x1="535.5" y1="508.0" x2="535.5" y2="521.4" stroke="#3a3a3a" stroke-width="1" />
<line x1="527.0" y1="521.4" x2="535.5" y2="521.4" stroke="#3a3a3a" stroke-width="1" />
<line x1="523.8" y1="509.0" x2="527.0" y2="509.0" stroke="#3a3a3a" stroke-width="1" />
<line x1="527.0" y1="509.0" x2="527.0" y2="522.4" stroke="#3a3a3a" stroke-width="1" />
<line x1="523.8" y1="522.4" x2="527.0" y2="522.4" stroke="#3a3a3a" stroke-width="1" />
<line x1="518.0" y1="510.0" x2="523.8" y2="510.0" stroke="#3a3a3a" stroke-width="1" />
<line x1="523.8" y1="510.0" x2="523.8" y2="526.4" stroke="#3a3a3a" stroke-width="1" />
<line x1="518.0" y1="526.4" x2="523.8" y2="526.4" stroke="#3a3a3a" stroke-width="1" />
<line x1="516.7" y1="513.0" x2="518.0" y2="513.0" stroke="#3a3a3a" stroke-width="1" />
<line x1="518.0" y1="513.0" x2="518.0" y2="527.0" stroke="#3a3a3a" stroke-width="1" />
<line x1="516.7" y1="527.0" x2="518.0" y2="527.0" stroke="#3a3a3a" stroke-width="1" />
<line x1="515.4" y1="513.0" x2="516.7" y2="513.0" stroke="#3a3a3a" stroke-width="1" />
<line x1="516.7" y1="513.0" x2="516.7" y2="530.0" stroke="#3a3a3a" stroke-width="1" />
<line x1="515.4" y1="530.0" x2="516.7" y2="530.0" stroke="#3a3a3a" stroke-width="1" />
<line x1="514.7" y1="520.0" x2="515.4" y2="520.0" stroke="#3a3a3a" stroke-width="1" />
<line x1="515.4" y1="520.0" x2="515.4" y2="534.0" stroke="#3a3a3a" stroke-width="1" />
<line x1="514.7" y1="534.0" x2="515.4" y2="534.0" stroke="#3a3a3a" stroke-width="1" />
<line x1="502.3" y1="525.0" x2="514.7" y2="525.0" stroke="#3a3a3a" stroke-width="1" />
<line x1="514.7" y1="525.0" x2="514.7" y2="541.6" stroke="#3a3a3a" stroke-width="1" />
<line x1="503.0" y1="541.6" x2="514.7" y2="541.6" stroke="#3a3a3a" stroke-width="1" />
<line x1="501.0" y1="528.0" x2="502.3" y2="528.0" stroke="#3a3a3a" stroke-width="1" />
<line x1="502.3" y1="528.0" x2="502.3" y2="547.0" stroke="#3a3a3a" stroke-width="1" />
<line x1="501.0" y1="547.0" x2="502.3" y2="547.0" stroke="#3a3a3a" stroke-width="1" />
<line x1="494.5" y1="543.0" x2="501.0" y2="543.0" stroke="#3a3a3a" stroke-width="1" />
<line x1="501.0" y1="543.0" x2="501.0" y2="551.0" stroke="#3a3a3a" stroke-width="1" />
<line x1="494.5" y1="551.0" x2="501.0" y2="551.0" stroke="#3a3a3a" stroke-width="1" />
<line x1="492.0" y1="551.0" x2="494.5" y2="551.0" stroke="#3a3a3a" stroke-width="1" />
<line x1="494.5" y1="551.0" x2="494.5" y2="558.0" stroke="#3a3a3a" stroke-width="1" />
<line x1="492.0" y1="558.0" x2="494.5" y2="558.0" stroke="#3a3a3a" stroke-width="1" />
<line x1="477.8" y1="555.0" x2="492.0" y2="555.0" stroke="#3a3a3a" stroke-width="1" />
<line x1="492.0" y1="555.0" x2="492.0" y2="560.0" stroke="#3a3a3a" stroke-width="1" />
<line x1="477.8" y1="560.0" x2="492.0" y2="560.0" stroke="#3a3a3a" stroke-width="1" />
<line x1="542.7" y1="518.8" x2="766.7" y2="518.8" stroke="#3a3a3a" stroke-width="1" />
<line x1="766.7" y1="518.8" x2="766.7" y2="632.4" stroke="#3a3a3a" stroke-width="1" />
<line x1="766.7" y1="632.4" x2="697.8" y2="632.4" stroke="#3a3a3a" stroke-width="1" />
<line x1="697.8" y1="565.0" x2="697.8" y2="634.4" stroke="#3a3a3a" stroke-width="1" />
<line x1="477.8" y1="565.0" x2="697.8" y2="565.0" stroke="#3a3a3a" stroke-width="1" />
<line x1="697.8" y1="635.4" x2="620.5" y2="635.4" stroke="#3a3a3a" stroke-width="1" />
<line x1="477.8" y1="573.5" x2="621.5" y2="573.5" stroke="#ff9a20" stroke-width="1.5" />
<rect x="477.80" y="574.00" width="70.00" height="2.00" fill="#c06010" />
<line x1="620.5" y1="573.5" x2="620.5" y2="635.4" stroke="#f0a040" stroke-width="1" />
<line x1="616.6" y1="573.5" x2="616.6" y2="683.0" stroke="#3a3a3a" stroke-width="1" />
<line x1="583.4" y1="573.5" x2="583.4" y2="713.4" stroke="#3a3a3a" stroke-width="1" />
<line x1="564.8" y1="598.3" x2="583.4" y2="598.3" stroke="#3a3a3a" stroke-width="1" />
<line x1="583.4" y1="683.0" x2="616.6" y2="683.0" stroke="#3a3a3a" stroke-width="1" />
<line x1="581.4" y1="713.4" x2="583.4" y2="713.4" stroke="#3a3a3a" stroke-width="1" />
<line x1="477.8" y1="575.9" x2="564.8" y2="575.9" stroke="#f0a040" stroke-width="1" />
<line x1="564.8" y1="575.9" x2="564.8" y2="600.3" stroke="#f0a040" stroke-width="1" />
<line x1="541.4" y1="600.3" x2="564.8" y2="600.3" stroke="#3a3a3a" stroke-width="1" />
<line x1="477.8" y1="576.8" x2="541.4" y2="576.8" stroke="#3a3a3a" stroke-width="1" />
<line x1="541.4" y1="576.8" x2="541.4" y2="601.2" stroke="#3a3a3a" stroke-width="1" />
<line x1="515.0" y1="601.2" x2="541.4" y2="601.2" stroke="#3a3a3a" stroke-width="1" />
<line x1="477.8" y1="576.0" x2="515.0" y2="576.0" stroke="#e8d070" stroke-width="1" />
<line x1="515.0" y1="576.0" x2="515.0" y2="611.0" stroke="#e8d070" stroke-width="1" />
<line x1="504.3" y1="611.0" x2="515.0" y2="611.0" stroke="#3a3a3a" stroke-width="1" />
<line x1="477.8" y1="584.6" x2="504.3" y2="584.6" stroke="#3a3a3a" stroke-width="1" />
<line x1="504.3" y1="584.6" x2="504.3" y2="615.9" stroke="#3a3a3a" stroke-width="1" />
<line x1="492.6" y1="615.9" x2="504.3" y2="615.9" stroke="#3a3a3a" stroke-width="1" />
<line x1="477.8" y1="599.3" x2="492.6" y2="599.3" stroke="#3a3a3a" stroke-width="1" />
<line x1="492.6" y1="599.3" x2="492.6" y2="621.8" stroke="#3a3a3a" stroke-width="1" />
<line x1="487.7" y1="621.8" x2="492.6" y2="621.8" stroke="#3a3a3a" stroke-width="1" />
<line x1="477.8" y1="622.7" x2="487.7" y2="622.7" stroke="#3a3a3a" stroke-width="1" />
<line x1="487.7" y1="622.7" x2="487.7" y2="633.5" stroke="#3a3a3a" stroke-width="1" />
<line x1="477.8" y1="633.5" x2="487.7" y2="633.5" stroke="#3a3a3a" stroke-width="1" />
<rect x="477.80" y="588.71" width="7.26" height="1.60" fill="#8a7a20" opacity="0.9"/>
<rect x="477.80" y="593.32" width="8.81" height="1.76" fill="#ffd700" opacity="0.9"/>
<rect x="477.80" y="580.23" width="13.91" height="1.45" fill="#6b5a10" opacity="0.9"/>
<rect x="477.80" y="585.95" width="5.67" height="1.63" fill="#555" opacity="0.9"/>
<rect x="477.80" y="583.89" width="5.00" height="1.81" fill="#8a7a20" opacity="0.9"/>
<rect x="477.80" y="588.95" width="5.07" height="1.45" fill="#6b5a10" opacity="0.9"/>
<rect x="477.80" y="597.02" width="13.52" height="1.37" fill="#8a7a20" opacity="0.9"/>
<rect x="477.80" y="589.33" width="8.20" height="1.86" fill="#ffd700" opacity="0.9"/>
<rect x="477.80" y="592.41" width="8.79" height="1.38" fill="#8a7a20" opacity="0.9"/>
<rect x="477.80" y="578.28" width="8.38" height="1.85" fill="#555" opacity="0.9"/>
<rect x="477.80" y="613.82" width="6.96" height="1.78" fill="#6b5a10" opacity="0.9"/>
<rect x="477.80" y="615.03" width="12.41" height="1.33" fill="#8a7a20" opacity="0.9"/>
<rect x="477.80" y="617.11" width="11.00" height="1.15" fill="#555" opacity="0.9"/>
<rect x="477.80" y="613.29" width="5.64" height="1.78" fill="#ffd700" opacity="0.9"/>
<rect x="477.80" y="619.46" width="5.29" height="1.13" fill="#8a7a20" opacity="0.9"/>
<rect x="477.80" y="618.60" width="12.17" height="1.75" fill="#6b5a10" opacity="0.9"/>
<rect x="477.80" y="599.14" width="13.52" height="1.58" fill="#ffd700" opacity="0.9"/>
<rect x="477.80" y="611.08" width="10.41" height="1.05" fill="#555" opacity="0.9"/>
<rect x="477.80" y="622.83" width="9.32" height="1.31" fill="#8a7a20" opacity="0.9"/>
<rect x="477.80" y="617.53" width="6.14" height="1.71" fill="#ffd700" opacity="0.9"/>
<rect x="477.80" y="611.62" width="13.08" height="1.18" fill="#ffd700" opacity="0.9"/>
<rect x="477.80" y="607.23" width="7.90" height="1.89" fill="#6b5a10" opacity="0.9"/>
<rect x="477.80" y="578.00" width="12.00" height="8.00" fill="#a09020" />
<rect x="477.80" y="580.00" width="6.00" height="2.00" fill="#ffd700" />
<rect x="477.80" y="586.00" width="10.00" height="3.00" fill="#fff" />
<rect x="477.80" y="589.00" width="14.00" height="5.00" fill="#8a7a20" />
<rect x="477.80" y="590.00" width="8.00" height="2.00" fill="#ffd700" />
<rect x="477.80" y="598.00" width="12.00" height="4.00" fill="#ffd700" />
<rect x="477.80" y="602.00" width="14.00" height="3.00" fill="#fff" />
<rect x="477.80" y="605.00" width="12.00" height="4.00" fill="#ffd700" />
<rect x="477.80" y="609.00" width="12.00" height="3.00" fill="#7a6a20" />
<rect x="477.80" y="612.00" width="14.00" height="4.00" fill="#d8c000" />
<rect x="477.80" y="616.00" width="12.00" height="2.00" fill="#555" />
<rect x="477.80" y="618.00" width="10.00" height="4.00" fill="#8a7a20" />
<rect x="477.80" y="622.00" width="10.00" height="11.00" fill="#fff" />
<line x1="477.8" y1="627.0" x2="487.7" y2="627.0" stroke="#777" stroke-width="0.8" />
<rect x="477.80" y="668.60" width="10.00" height="12.00" fill="#ff8c00" />
<rect x="488.00" y="669.58" width="30.42" height="1.09" fill="#8b4500" opacity="0.9"/>
<rect x="488.00" y="678.22" width="29.40" height="1.87" fill="#333" opacity="0.9"/>
<rect x="488.00" y="672.75" width="20.52" height="1.05" fill="#333" opacity="0.9"/>
<rect x="488.00" y="676.72" width="48.57" height="1.16" fill="#8b4500" opacity="0.9"/>
<rect x="488.00" y="678.66" width="15.84" height="1.38" fill="#ff8c00" opacity="0.9"/>
<rect x="488.00" y="670.12" width="39.88" height="1.04" fill="#ff8c00" opacity="0.9"/>
<rect x="488.00" y="677.69" width="48.77" height="1.02" fill="#ff8c00" opacity="0.9"/>
<rect x="505.00" y="672.00" width="17.00" height="4.00" fill="#fff" />
<polyline points="477.8,669.1 563.5,669.1 563.5,672.0" fill="none" stroke="#ffc080" stroke-width="1"/>
<line x1="558.3" y1="672.4" x2="581.4" y2="672.4" stroke="#3a3a3a" stroke-width="1" />
<line x1="581.4" y1="671.6" x2="581.4" y2="722.8" stroke="#3a3a3a" stroke-width="1" />
<line x1="477.8" y1="669.1" x2="558.3" y2="669.1" stroke="#3a3a3a" stroke-width="1" />
<line x1="558.3" y1="669.1" x2="558.3" y2="673.7" stroke="#3a3a3a" stroke-width="1" />
<line x1="544.0" y1="673.7" x2="558.3" y2="673.7" stroke="#3a3a3a" stroke-width="1" />
<line x1="477.8" y1="670.4" x2="544.0" y2="670.4" stroke="#3a3a3a" stroke-width="1" />
<line x1="544.0" y1="670.4" x2="544.0" y2="676.3" stroke="#3a3a3a" stroke-width="1" />
<line x1="539.5" y1="676.3" x2="544.0" y2="676.3" stroke="#3a3a3a" stroke-width="1" />
<line x1="477.8" y1="672.0" x2="539.5" y2="672.0" stroke="#3a3a3a" stroke-width="1" />
<line x1="539.5" y1="672.0" x2="539.5" y2="677.6" stroke="#3a3a3a" stroke-width="1" />
<line x1="477.8" y1="677.6" x2="539.5" y2="677.6" stroke="#3a3a3a" stroke-width="1" />
<line x1="478.3" y1="680.0" x2="478.3" y2="722.0" stroke="#40a040" stroke-width="1" />
<rect x="477.80" y="682.40" width="10.00" height="2.00" fill="#2a8a2a" />
<rect x="477.80" y="686.30" width="10.00" height="2.00" fill="#2a8a2a" />
<rect x="477.80" y="694.00" width="10.00" height="2.00" fill="#2a8a2a" />
<rect x="477.80" y="697.50" width="10.00" height="2.00" fill="#2a8a2a" />
<rect x="477.80" y="703.30" width="10.00" height="2.00" fill="#2a8a2a" />
<rect x="477.80" y="705.90" width="10.00" height="2.00" fill="#2a8a2a" />
<rect x="477.80" y="714.30" width="10.00" height="2.00" fill="#2a8a2a" />
<rect x="477.80" y="694.00" width="40.00" height="2.00" fill="#777" />
<rect x="477.80" y="694.20" width="10.00" height="1.60" fill="#064" />
<line x1="477.8" y1="683.4" x2="518.0" y2="683.4" stroke="#3a3a3a" stroke-width="1" />
<line x1="518.0" y1="683.4" x2="518.0" y2="689.3" stroke="#3a3a3a" stroke-width="1" />
<line x1="497.8" y1="689.3" x2="518.0" y2="689.3" stroke="#3a3a3a" stroke-width="1" />
<line x1="477.8" y1="687.3" x2="497.8" y2="687.3" stroke="#3a3a3a" stroke-width="1" />
<line x1="497.8" y1="687.3" x2="497.8" y2="690.6" stroke="#3a3a3a" stroke-width="1" />
<line x1="477.8" y1="690.6" x2="497.8" y2="690.6" stroke="#3a3a3a" stroke-width="1" />
<line x1="518.0" y1="687.3" x2="575.7" y2="687.3" stroke="#3a3a3a" stroke-width="1" />
<line x1="477.8" y1="695.8" x2="527.7" y2="695.8" stroke="#3a3a3a" stroke-width="1" />
<line x1="527.7" y1="695.8" x2="527.7" y2="704.3" stroke="#3a3a3a" stroke-width="1" />
<line x1="497.8" y1="704.3" x2="527.7" y2="704.3" stroke="#3a3a3a" stroke-width="1" />
<line x1="477.8" y1="701.0" x2="497.8" y2="701.0" stroke="#3a3a3a" stroke-width="1" />
<line x1="497.8" y1="701.0" x2="497.8" y2="706.9" stroke="#3a3a3a" stroke-width="1" />
<line x1="477.8" y1="706.9" x2="497.8" y2="706.9" stroke="#3a3a3a" stroke-width="1" />
<line x1="527.7" y1="700.4" x2="569.9" y2="700.4" stroke="#3a3a3a" stroke-width="1" />
<line x1="477.8" y1="715.3" x2="564.2" y2="715.3" stroke="#3a3a3a" stroke-width="1" />
<rect x="477.80" y="723.30" width="31.00" height="4.50" fill="#ff8c00" />
<rect x="500.00" y="723.50" width="19.00" height="4.00" fill="#7a3a00" />
<rect x="511.70" y="724.00" width="33.80" height="3.00" fill="#fff" />
<polyline points="511.7,724.0 545.5,724.0 545.5,727.8 511.7,727.8" fill="none" stroke="#3a3a3a" stroke-width="0.9"/>
<line x1="545.5" y1="724.6" x2="551.4" y2="724.6" stroke="#3a3a3a" stroke-width="1" />
<line x1="551.4" y1="724.6" x2="551.4" y2="761.7" stroke="#3a3a3a" stroke-width="1" />
<line x1="537.7" y1="761.7" x2="551.4" y2="761.7" stroke="#3a3a3a" stroke-width="1" />
<line x1="551.4" y1="751.2" x2="564.4" y2="751.2" stroke="#3a3a3a" stroke-width="1" />
<rect x="477.80" y="730.40" width="10.00" height="17.60" fill="#ff8c00" />
<rect x="488.00" y="746.35" width="14.41" height="1.55" fill="#ff8c00" opacity="0.9"/>
<rect x="488.00" y="737.31" width="10.95" height="1.79" fill="#8b4500" opacity="0.9"/>
<rect x="488.00" y="737.00" width="20.22" height="1.31" fill="#333" opacity="0.9"/>
<rect x="488.00" y="738.27" width="15.66" height="1.43" fill="#ff8c00" opacity="0.9"/>
<rect x="488.00" y="737.09" width="19.43" height="1.21" fill="#ff8c00" opacity="0.9"/>
<rect x="488.00" y="739.33" width="14.25" height="1.75" fill="#c06010" opacity="0.9"/>
<rect x="488.00" y="745.34" width="25.96" height="1.51" fill="#ff8c00" opacity="0.9"/>
<rect x="488.00" y="736.79" width="32.38" height="1.53" fill="#ff8c00" opacity="0.9"/>
<rect x="488.00" y="740.47" width="13.34" height="1.45" fill="#333" opacity="0.9"/>
<rect x="488.00" y="736.79" width="14.58" height="1.25" fill="#333" opacity="0.9"/>
<rect x="488.00" y="731.03" width="25.36" height="1.65" fill="#ff8c00" opacity="0.9"/>
<rect x="488.00" y="745.05" width="32.35" height="1.77" fill="#8b4500" opacity="0.9"/>
<rect x="488.00" y="730.40" width="32.00" height="17.60" fill="#ff8c00" opacity="0.9"/>
<rect x="488.00" y="733.00" width="30.00" height="1.50" fill="#8b4500" />
<rect x="495.00" y="738.00" width="25.00" height="1.50" fill="#333" />
<rect x="488.00" y="741.00" width="20.00" height="1.50" fill="#8b4500" />
<rect x="490.00" y="735.50" width="22.00" height="2.50" fill="#fff" />
<rect x="495.00" y="744.50" width="20.00" height="2.50" fill="#fff" />
<rect x="505.00" y="739.50" width="15.00" height="2.00" fill="#fff" />
<polyline points="477.8,731.0 537.0,731.0 537.0,766.9" fill="none" stroke="#f0c080" stroke-width="1"/>
<line x1="519.5" y1="733.0" x2="519.5" y2="745.0" stroke="#3a3a3a" stroke-width="1" />
<line x1="524.7" y1="732.0" x2="524.7" y2="742.0" stroke="#3a3a3a" stroke-width="1" />
<line x1="531.2" y1="731.0" x2="531.2" y2="750.0" stroke="#3a3a3a" stroke-width="1" />
<line x1="519.5" y1="745.0" x2="488.0" y2="745.0" stroke="#3a3a3a" stroke-width="1" />
<line x1="524.7" y1="742.0" x2="512.0" y2="742.0" stroke="#3a3a3a" stroke-width="1" />
<rect x="477.80" y="750.00" width="22.00" height="3.90" fill="#ff8c00" />
<rect x="500.00" y="750.00" width="15.00" height="3.90" fill="#6a3a00" />
<rect x="515.00" y="750.50" width="8.40" height="3.00" fill="#fff" />
<polyline points="515.0,750.5 523.4,750.5 523.4,777.3 510.4,777.3" fill="none" stroke="#3a3a3a" stroke-width="1"/>
<line x1="534.5" y1="748.0" x2="534.5" y2="767.5" stroke="#3a3a3a" stroke-width="1" />
<line x1="534.5" y1="767.5" x2="523.4" y2="767.5" stroke="#3a3a3a" stroke-width="1" />
<rect x="477.80" y="755.00" width="10.00" height="2.00" fill="#8a7a20" />
<rect x="488.00" y="760.00" width="15.00" height="3.00" fill="#fff" />
<polyline points="488.0,760.0 503.0,760.0 503.0,763.0 488.0,763.0" fill="none" stroke="#3a3a3a" stroke-width="0.8"/>
<rect x="477.80" y="764.30" width="31.00" height="2.60" fill="#ffd700" />
<rect x="477.80" y="768.00" width="10.00" height="7.00" fill="#c8b020" />
<rect x="477.80" y="770.00" width="10.00" height="2.00" fill="#6b5a10" />
<polyline points="477.8,759.0 510.4,759.0 510.4,777.3" fill="none" stroke="#3a3a3a" stroke-width="1"/>
<polyline points="477.8,766.9 503.9,766.9 503.9,780.5 477.8,780.5" fill="none" stroke="#e0c040" stroke-width="1"/>
<line x1="500.0" y1="768.0" x2="500.0" y2="782.5" stroke="#3a3a3a" stroke-width="1" />
<line x1="498.0" y1="770.0" x2="498.0" y2="792.3" stroke="#3a3a3a" stroke-width="1" />
<line x1="498.0" y1="792.3" x2="488.0" y2="792.3" stroke="#3a3a3a" stroke-width="1" />
<rect x="477.80" y="782.50" width="10.00" height="10.50" fill="#d8c000" />
<rect x="477.80" y="785.00" width="10.00" height="3.00" fill="#3a3000" />
<rect x="477.80" y="789.00" width="10.00" height="2.00" fill="#8a7a20" />
<line x1="493.4" y1="782.0" x2="493.4" y2="795.5" stroke="#3a3a3a" stroke-width="1" />
<line x1="493.4" y1="795.5" x2="487.6" y2="795.5" stroke="#3a3a3a" stroke-width="1" />
<line x1="487.6" y1="795.0" x2="487.6" y2="812.4" stroke="#3a3a3a" stroke-width="1" />
<line x1="477.8" y1="812.4" x2="487.6" y2="812.4" stroke="#3a3a3a" stroke-width="1" />
<rect x="477.80" y="805.30" width="10.00" height="4.50" fill="#ffd700" />
<rect x="477.80" y="800.00" width="8.00" height="1.20" fill="#999" />
<line x1="581.4" y1="671.6" x2="581.4" y2="722.8" stroke="#3a3a3a" stroke-width="1" />
<line x1="575.7" y1="687.6" x2="575.7" y2="735.7" stroke="#3a3a3a" stroke-width="1" />
<line x1="575.7" y1="722.8" x2="581.4" y2="722.8" stroke="#3a3a3a" stroke-width="1" />
<line x1="569.9" y1="700.4" x2="569.9" y2="745.1" stroke="#3a3a3a" stroke-width="1" />
<line x1="569.9" y1="735.7" x2="575.7" y2="735.7" stroke="#3a3a3a" stroke-width="1" />
<line x1="564.4" y1="715.3" x2="564.4" y2="751.2" stroke="#3a3a3a" stroke-width="1" />
<line x1="564.4" y1="745.1" x2="569.9" y2="745.1" stroke="#3a3a3a" stroke-width="1" />
<rect x="290.40" y="495.00" width="3.80" height="330.00" fill="#fff" />
<rect x="473.70" y="495.00" width="4.00" height="330.00" fill="#fff" />
</svg>
</body></html>
